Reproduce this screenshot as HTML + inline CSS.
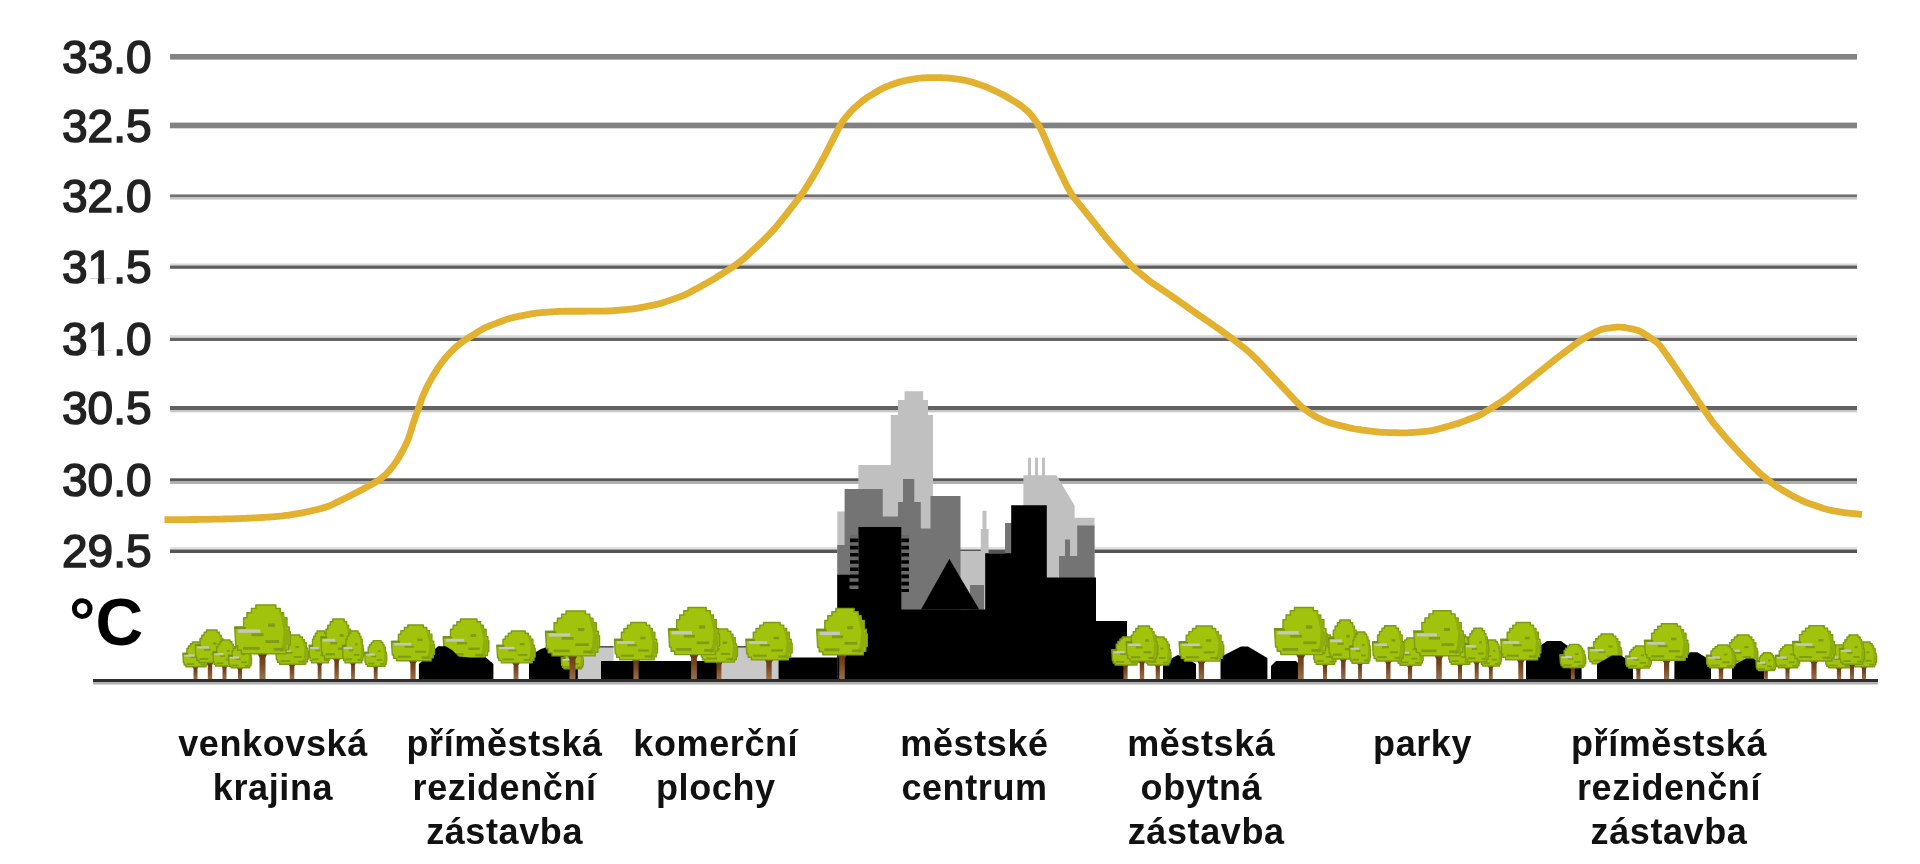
<!DOCTYPE html>
<html><head><meta charset="utf-8"><style>
html,body{margin:0;padding:0;background:#fff;}
body{width:1920px;height:864px;overflow:hidden;}
svg{display:block;filter:blur(0.7px);}
.yl{font-family:"Liberation Sans",sans-serif;font-size:46px;fill:#222;stroke:#222;stroke-width:1.5px;}
.deg{font-family:"Liberation Sans",sans-serif;font-size:66px;font-weight:bold;fill:#000;}
.lb{font-family:"Liberation Sans",sans-serif;font-size:36px;font-weight:bold;fill:#111;text-anchor:middle;letter-spacing:0.6px;}
</style></head><body>
<svg width="1920" height="864" viewBox="0 0 1920 864">
<defs><linearGradient id="trk" x1="0" y1="0" x2="0" y2="1"><stop offset="0" stop-color="#5e3216"/><stop offset="0.45" stop-color="#7a4620"/><stop offset="1" stop-color="#9a7250"/></linearGradient></defs>
<rect x="170" y="54.0" width="1687" height="5.6" fill="#838383"/>
<rect x="170" y="122.6" width="1687" height="5.7" fill="#828282"/>
<rect x="170" y="194.4" width="1687" height="3.1" fill="#727272"/>
<rect x="170" y="197.5" width="1687" height="2.1" fill="#c8c8c8"/>
<rect x="170" y="263.5" width="1687" height="2.0" fill="#d8d8d8"/>
<rect x="170" y="265.5" width="1687" height="3.3" fill="#5e5e5e"/>
<rect x="170" y="335.2" width="1687" height="2.6" fill="#d8d8d8"/>
<rect x="170" y="337.8" width="1687" height="3.2" fill="#646464"/>
<rect x="170" y="406.0" width="1687" height="4.0" fill="#626262"/>
<rect x="170" y="410.0" width="1687" height="2.3" fill="#c8c8c8"/>
<rect x="170" y="478.3" width="1687" height="3.2" fill="#585858"/>
<rect x="170" y="481.5" width="1687" height="2.5" fill="#b0b0b0"/>
<rect x="170" y="547.0" width="1687" height="2.5" fill="#e0e0e0"/>
<rect x="170" y="549.5" width="1687" height="3.5" fill="#545454"/>
<text x="62" y="72.5" class="yl">33.0</text>
<text x="62" y="141.5" class="yl">32.5</text>
<text x="62" y="211.9" class="yl">32.0</text>
<text x="62" y="283.1" class="yl">31.5</text>
<rect x="89" y="278.8" width="8.9" height="6" fill="#fff"/>
<rect x="104.3" y="278.8" width="8.5" height="6" fill="#fff"/>
<text x="62" y="354.9" class="yl">31.0</text>
<rect x="89" y="350.6" width="8.9" height="6" fill="#fff"/>
<rect x="104.3" y="350.6" width="8.5" height="6" fill="#fff"/>
<text x="62" y="424.2" class="yl">30.5</text>
<text x="62" y="495.9" class="yl">30.0</text>
<text x="62" y="566.9" class="yl">29.5</text>
<text x="69" y="644.5" class="deg">°C</text>
<rect x="576.5" y="646.8" width="37.1" height="33.2" fill="#c8c8c8"/>
<rect x="576.5" y="646.0" width="37.1" height="1.6" fill="#555"/>
<rect x="718.0" y="646.8" width="60.5" height="33.2" fill="#c8c8c8"/>
<rect x="718.0" y="646.0" width="60.5" height="1.6" fill="#555"/>
<rect x="601.0" y="661.0" width="117.0" height="19.0" fill="#000"/>
<rect x="778.5" y="657.5" width="81.5" height="22.5" fill="#000"/>
<path d="M460.1,655.5 L471.9,655.5 L468.7,661.6 L468.7,680.0 L463.3,680.0 L463.3,661.6 Z" fill="url(#trk)"/>
<polygon points="460.5,619.0 477.0,619.0 477.0,621.8 480.6,621.8 480.6,625.3 483.4,625.3 483.4,629.3 486.1,629.3 486.1,636.8 487.9,636.8 487.9,640.8 488.8,640.8 488.8,651.5 487.5,651.5 487.5,655.5 485.2,655.5 485.2,658.6 448.6,658.6 448.6,655.9 445.4,655.9 445.4,652.3 444.1,652.3 443.2,636.8 450.5,636.8 450.5,629.3 453.2,629.3 453.2,625.3 456.9,625.3 456.9,621.8 460.5,621.8" fill="#a2c30c" stroke="#7c9a12" stroke-width="1.4" stroke-linejoin="round"/>
<polygon points="479.7,623.0 482.9,626.9 485.6,630.9 485.6,638.8 487.9,638.8 487.9,651.5 485.6,651.5 485.6,655.5 482.4,657.1 479.7,657.1 482.4,650.7 483.4,638.8 481.5,630.9" fill="#8eae10"/>
<rect x="456.9" y="642.0" width="10.0" height="2.4" fill="#7f9c14"/>
<rect x="470.6" y="634.1" width="5.5" height="2.8" fill="#7f9c14"/>
<rect x="468.3" y="647.5" width="11.4" height="2.4" fill="#7f9c14"/>
<rect x="450.0" y="653.1" width="13.7" height="2.4" fill="#7f9c14"/>
<rect x="475.1" y="653.9" width="8.2" height="2.4" fill="#7f9c14"/>
<rect x="445.9" y="638.8" width="18.3" height="2.8" fill="#c6c8c0"/>
<rect x="443.2" y="636.8" width="9.1" height="1.6" fill="#6f8f14"/>
<path d="M1600.0,661.5 L1610.0,661.5 L1607.3,666.1 L1607.3,680.0 L1602.7,680.0 L1602.7,666.1 Z" fill="url(#trk)"/>
<polygon points="1601.0,634.0 1613.1,634.0 1613.1,636.1 1615.8,636.1 1615.8,638.8 1617.8,638.8 1617.8,641.8 1619.8,641.8 1619.8,647.5 1621.1,647.5 1621.1,650.4 1621.8,650.4 1621.8,658.5 1620.8,658.5 1620.8,661.5 1619.1,661.5 1619.1,663.9 1592.2,663.9 1592.2,661.8 1589.9,661.8 1589.9,659.1 1588.9,659.1 1588.2,647.5 1593.6,647.5 1593.6,641.8 1595.6,641.8 1595.6,638.8 1598.3,638.8 1598.3,636.1 1601.0,636.1" fill="#a2c30c" stroke="#7c9a12" stroke-width="1.4" stroke-linejoin="round"/>
<polygon points="1615.1,637.0 1617.4,640.0 1619.4,643.0 1619.4,649.0 1621.1,649.0 1621.1,658.5 1619.4,658.5 1619.4,661.5 1617.1,662.7 1615.1,662.7 1617.1,657.9 1617.8,649.0 1616.4,643.0" fill="#8eae10"/>
<rect x="1598.3" y="651.3" width="7.4" height="1.8" fill="#7f9c14"/>
<rect x="1608.4" y="645.4" width="4.0" height="2.1" fill="#7f9c14"/>
<rect x="1606.7" y="655.5" width="8.4" height="1.8" fill="#7f9c14"/>
<rect x="1593.2" y="659.7" width="10.1" height="1.8" fill="#7f9c14"/>
<rect x="1611.7" y="660.3" width="6.0" height="1.8" fill="#7f9c14"/>
<rect x="1590.2" y="649.0" width="13.4" height="2.2" fill="#c6c8c0"/>
<rect x="1588.2" y="647.5" width="6.7" height="1.6" fill="#6f8f14"/>
<path d="M1736.0,661.9 L1746.0,661.9 L1743.3,666.4 L1743.3,680.0 L1738.7,680.0 L1738.7,666.4 Z" fill="url(#trk)"/>
<polygon points="1737.0,635.0 1749.1,635.0 1749.1,637.0 1751.8,637.0 1751.8,639.7 1753.8,639.7 1753.8,642.6 1755.8,642.6 1755.8,648.2 1757.1,648.2 1757.1,651.1 1757.8,651.1 1757.8,659.0 1756.8,659.0 1756.8,661.9 1755.1,661.9 1755.1,664.2 1728.2,664.2 1728.2,662.2 1725.9,662.2 1725.9,659.6 1724.9,659.6 1724.2,648.2 1729.6,648.2 1729.6,642.6 1731.6,642.6 1731.6,639.7 1734.3,639.7 1734.3,637.0 1737.0,637.0" fill="#a2c30c" stroke="#7c9a12" stroke-width="1.4" stroke-linejoin="round"/>
<polygon points="1751.1,637.9 1753.4,640.9 1755.4,643.8 1755.4,649.6 1757.1,649.6 1757.1,659.0 1755.4,659.0 1755.4,661.9 1753.1,663.1 1751.1,663.1 1753.1,658.4 1753.8,649.6 1752.4,643.8" fill="#8eae10"/>
<rect x="1734.3" y="652.0" width="7.4" height="1.8" fill="#7f9c14"/>
<rect x="1744.4" y="646.1" width="4.0" height="2.0" fill="#7f9c14"/>
<rect x="1742.7" y="656.1" width="8.4" height="1.8" fill="#7f9c14"/>
<rect x="1729.2" y="660.2" width="10.1" height="1.8" fill="#7f9c14"/>
<rect x="1747.7" y="660.7" width="6.0" height="1.8" fill="#7f9c14"/>
<rect x="1726.2" y="649.6" width="13.4" height="2.2" fill="#c6c8c0"/>
<rect x="1724.2" y="648.2" width="6.7" height="1.6" fill="#6f8f14"/>
<path d="M418.9,680 L418.9,664 L431.6,652 L438,646.2 L445.6,646.2 L452,650 L458.7,656.6 L470,657.5 L486,657.5 L493.4,664 L493.4,680 Z" fill="#000"/>
<path d="M529,680 L529,656 L541,649 L547,647 L556,647 L562,650 L570,656 L577.8,660 L577.8,680 Z" fill="#000"/>
<path d="M1163,680 L1163,664 L1172,658 L1178,655 L1186,658 L1196,664 L1196,680 Z" fill="#000"/>
<path d="M1220.5,680 L1220.5,657 L1241,646.4 L1248,646.4 L1267.4,658 L1267.4,680 Z" fill="#000"/>
<path d="M1271,680 L1271,666 L1276,661 L1296,661 L1299,664 L1299,680 Z" fill="#000"/>
<path d="M1526,680 L1526,656 L1547,641 L1561,641 L1576,652 L1581.6,655 L1581.6,680 Z" fill="#000"/>
<path d="M1597,680 L1597,664 L1612,655.5 L1621,655.5 L1633,663 L1633,680 Z" fill="#000"/>
<path d="M1674.4,680 L1674.4,657 L1690.6,652.3 L1697.4,652.3 L1711,660.5 L1711,680 Z" fill="#000"/>
<path d="M1732,680 L1732,666 L1746,658.4 L1753,658.4 L1764,665 L1764,680 Z" fill="#000"/>
<path d="M890.8,680 V415 H898 V400 H904.6 V391.3 H923.2 V400 H928 V415 H933 V680 Z" fill="#c0c0c0"/>
<path d="M858.4,680 V465 H891 V680 Z" fill="#c0c0c0"/>
<path d="M837.3,680 V511.6 H845 V680 Z" fill="#c0c0c0"/>
<path d="M1023.4,680 V475.2 H1056.4 L1074.6,505.6 V517.7 H1094.5 V680 Z" fill="#c0c0c0"/>
<path d="M1028,476 V457.8 H1031 V476 Z M1035,476 V457.8 H1038 V476 Z M1042,476 V457.8 H1045 V476 Z" fill="#c0c0c0"/>
<path d="M980.8,680 V529 H988.6 V680 Z M982.5,530 V510.8 H986.5 V530 Z" fill="#c0c0c0"/>
<path d="M959.7,680 V551 H984 V680 Z" fill="#c0c0c0"/>
<path d="M882,680 V480 H898 V680 Z" fill="#c0c0c0"/>
<path d="M844.6,680 V489 H882.7 V516.5 H898 V502 H903 V479 H914.3 V502 H920.8 V528.6 H930.5 V496 H960.5 V680 Z" fill="#747474"/>
<path d="M837.3,680 V545 H845 V680 Z" fill="#747474"/>
<path d="M1077.2,680 V525.5 H1094.5 V680 Z" fill="#747474"/>
<path d="M1059,680 V556 H1078 V680 Z M1065,557 V539.4 H1070 V557 Z" fill="#747474"/>
<path d="M1005,680 V523 H1012 V680 Z" fill="#747474"/>
<path d="M970,680 V585 H984 V680 Z" fill="#747474"/>
<path d="M858.4,680 V527 H901.3 V680 Z" fill="#000"/>
<path d="M837.3,680 V574.7 H860 V680 Z" fill="#000"/>
<path d="M921,609.6 L949.4,559 L979.3,609.6 Z" fill="#000"/>
<path d="M985.2,680 V553.3 H1011.2 V505.2 H1046.8 V577.6 H1096 V621 H1127 V680 Z" fill="#000"/>
<path d="M845,680 V609.4 H990 V680 Z" fill="#000"/>
<path d="M850,680 V535 H858.4 V680 Z M901.3,592 V535 H909 V592 Z" fill="#000"/>
<path d="M849.5,535.0 h9 v3.6 h-9 Z M901.3,535.0 h8 v3.6 h-8 Z M849.5,542.2 h9 v3.6 h-9 Z M901.3,542.2 h8 v3.6 h-8 Z M849.5,549.4 h9 v3.6 h-9 Z M901.3,549.4 h8 v3.6 h-8 Z M849.5,556.6 h9 v3.6 h-9 Z M901.3,556.6 h8 v3.6 h-8 Z M849.5,563.8 h9 v3.6 h-9 Z M901.3,563.8 h8 v3.6 h-8 Z M849.5,571.0 h9 v3.6 h-9 Z M901.3,571.0 h8 v3.6 h-8 Z M849.5,578.2 h9 v3.6 h-9 Z M901.3,578.2 h8 v3.6 h-8 Z M849.5,585.4 h9 v3.6 h-9 Z M901.3,585.4 h8 v3.6 h-8 Z" fill="#6a6a6a"/>
<path d="M191.1,664.7 L199.9,664.7 L197.5,668.5 L197.5,680.0 L193.5,680.0 L193.5,668.5 Z" fill="url(#trk)"/>
<polygon points="192.5,642.0 201.5,642.0 201.5,643.7 203.6,643.7 203.6,646.0 205.1,646.0 205.1,648.4 206.6,648.4 206.6,653.1 207.6,653.1 207.6,655.6 208.1,655.6 208.1,662.3 207.3,662.3 207.3,664.7 206.1,664.7 206.1,666.7 185.9,666.7 185.9,665.0 184.2,665.0 184.2,662.7 183.4,662.7 182.9,653.1 186.9,653.1 186.9,648.4 188.4,648.4 188.4,646.0 190.5,646.0 190.5,643.7 192.5,643.7" fill="#a2c30c" stroke="#7c9a12" stroke-width="1.4" stroke-linejoin="round"/>
<polygon points="203.1,644.5 204.8,646.9 206.3,649.4 206.3,654.4 207.6,654.4 207.6,662.3 206.3,662.3 206.3,664.7 204.6,665.7 203.1,665.7 204.6,661.8 205.1,654.4 204.1,649.4" fill="#8eae10"/>
<rect x="190.5" y="656.3" width="5.5" height="1.8" fill="#7f9c14"/>
<rect x="198.0" y="651.4" width="3.0" height="1.8" fill="#7f9c14"/>
<rect x="196.8" y="659.8" width="6.3" height="1.8" fill="#7f9c14"/>
<rect x="186.7" y="663.2" width="7.6" height="1.8" fill="#7f9c14"/>
<rect x="200.5" y="663.7" width="4.5" height="1.8" fill="#7f9c14"/>
<rect x="184.4" y="654.4" width="10.1" height="2.2" fill="#c6c8c0"/>
<rect x="182.9" y="653.1" width="5.0" height="1.6" fill="#6f8f14"/>
<path d="M205.3,659.9 L214.7,659.9 L212.2,664.9 L212.2,680.0 L207.8,680.0 L207.8,664.9 Z" fill="url(#trk)"/>
<polygon points="206.5,630.0 217.1,630.0 217.1,632.3 219.4,632.3 219.4,635.2 221.2,635.2 221.2,638.5 222.9,638.5 222.9,644.6 224.1,644.6 224.1,647.9 224.7,647.9 224.7,656.6 223.8,656.6 223.8,659.9 222.3,659.9 222.3,662.5 198.8,662.5 198.8,660.2 196.8,660.2 196.8,657.3 195.9,657.3 195.3,644.6 200.0,644.6 200.0,638.5 201.8,638.5 201.8,635.2 204.1,635.2 204.1,632.3 206.5,632.3" fill="#a2c30c" stroke="#7c9a12" stroke-width="1.4" stroke-linejoin="round"/>
<polygon points="218.8,633.2 220.9,636.5 222.6,639.8 222.6,646.2 224.1,646.2 224.1,656.6 222.6,656.6 222.6,659.9 220.6,661.2 218.8,661.2 220.6,656.0 221.2,646.2 220.0,639.8" fill="#8eae10"/>
<rect x="204.1" y="648.9" width="6.5" height="1.9" fill="#7f9c14"/>
<rect x="212.9" y="642.4" width="3.5" height="2.3" fill="#7f9c14"/>
<rect x="211.5" y="653.4" width="7.4" height="1.9" fill="#7f9c14"/>
<rect x="199.7" y="658.0" width="8.8" height="1.9" fill="#7f9c14"/>
<rect x="215.9" y="658.6" width="5.3" height="1.9" fill="#7f9c14"/>
<rect x="197.1" y="646.2" width="11.8" height="2.3" fill="#c6c8c0"/>
<rect x="195.3" y="644.6" width="5.9" height="1.6" fill="#6f8f14"/>
<path d="M220.2,663.9 L228.8,663.9 L226.5,667.9 L226.5,680.0 L222.5,680.0 L222.5,667.9 Z" fill="url(#trk)"/>
<polygon points="221.7,640.0 230.0,640.0 230.0,641.8 231.9,641.8 231.9,644.2 233.3,644.2 233.3,646.8 234.7,646.8 234.7,651.7 235.6,651.7 235.6,654.3 236.0,654.3 236.0,661.3 235.4,661.3 235.4,663.9 234.2,663.9 234.2,666.0 215.7,666.0 215.7,664.2 214.1,664.2 214.1,661.8 213.4,661.8 212.9,651.7 216.6,651.7 216.6,646.8 218.0,646.8 218.0,644.2 219.9,644.2 219.9,641.8 221.7,641.8" fill="#a2c30c" stroke="#7c9a12" stroke-width="1.4" stroke-linejoin="round"/>
<polygon points="231.4,642.6 233.0,645.2 234.4,647.8 234.4,653.0 235.6,653.0 235.6,661.3 234.4,661.3 234.4,663.9 232.8,665.0 231.4,665.0 232.8,660.8 233.3,653.0 232.4,647.8" fill="#8eae10"/>
<rect x="219.9" y="655.1" width="5.1" height="1.8" fill="#7f9c14"/>
<rect x="226.8" y="649.9" width="2.8" height="1.8" fill="#7f9c14"/>
<rect x="225.7" y="658.7" width="5.8" height="1.8" fill="#7f9c14"/>
<rect x="216.4" y="662.4" width="6.9" height="1.8" fill="#7f9c14"/>
<rect x="229.1" y="662.9" width="4.2" height="1.8" fill="#7f9c14"/>
<rect x="214.3" y="653.0" width="9.2" height="2.2" fill="#c6c8c0"/>
<rect x="212.9" y="651.7" width="4.6" height="1.6" fill="#6f8f14"/>
<path d="M235.7,665.9 L244.3,665.9 L242.0,669.4 L242.0,680.0 L238.0,680.0 L238.0,669.4 Z" fill="url(#trk)"/>
<polygon points="237.2,645.0 245.5,645.0 245.5,646.6 247.4,646.6 247.4,648.6 248.8,648.6 248.8,650.9 250.2,650.9 250.2,655.2 251.1,655.2 251.1,657.5 251.5,657.5 251.5,663.7 250.9,663.7 250.9,665.9 249.7,665.9 249.7,667.8 231.2,667.8 231.2,666.2 229.6,666.2 229.6,664.1 228.9,664.1 228.4,655.2 232.1,655.2 232.1,650.9 233.5,650.9 233.5,648.6 235.4,648.6 235.4,646.6 237.2,646.6" fill="#a2c30c" stroke="#7c9a12" stroke-width="1.4" stroke-linejoin="round"/>
<polygon points="246.9,647.3 248.5,649.5 249.9,651.8 249.9,656.4 251.1,656.4 251.1,663.7 249.9,663.7 249.9,665.9 248.3,666.8 246.9,666.8 248.3,663.2 248.8,656.4 247.9,651.8" fill="#8eae10"/>
<rect x="235.4" y="658.2" width="5.1" height="1.8" fill="#7f9c14"/>
<rect x="242.3" y="653.6" width="2.8" height="1.8" fill="#7f9c14"/>
<rect x="241.2" y="661.4" width="5.8" height="1.8" fill="#7f9c14"/>
<rect x="231.9" y="664.6" width="6.9" height="1.8" fill="#7f9c14"/>
<rect x="244.6" y="665.0" width="4.2" height="1.8" fill="#7f9c14"/>
<rect x="229.8" y="656.4" width="9.2" height="2.2" fill="#c6c8c0"/>
<rect x="228.4" y="655.2" width="4.6" height="1.6" fill="#6f8f14"/>
<path d="M287.0,661.9 L297.0,661.9 L294.3,666.4 L294.3,680.0 L289.7,680.0 L289.7,666.4 Z" fill="url(#trk)"/>
<polygon points="288.1,635.0 299.8,635.0 299.8,637.0 302.4,637.0 302.4,639.7 304.4,639.7 304.4,642.6 306.3,642.6 306.3,648.2 307.6,648.2 307.6,651.1 308.3,651.1 308.3,659.0 307.3,659.0 307.3,661.9 305.7,661.9 305.7,664.2 279.6,664.2 279.6,662.2 277.4,662.2 277.4,659.6 276.4,659.6 275.7,648.2 280.9,648.2 280.9,642.6 282.9,642.6 282.9,639.7 285.5,639.7 285.5,637.0 288.1,637.0" fill="#a2c30c" stroke="#7c9a12" stroke-width="1.4" stroke-linejoin="round"/>
<polygon points="301.8,637.9 304.0,640.9 306.0,643.8 306.0,649.6 307.6,649.6 307.6,659.0 306.0,659.0 306.0,661.9 303.7,663.1 301.8,663.1 303.7,658.4 304.4,649.6 303.1,643.8" fill="#8eae10"/>
<rect x="285.5" y="652.0" width="7.2" height="1.8" fill="#7f9c14"/>
<rect x="295.3" y="646.1" width="3.9" height="2.0" fill="#7f9c14"/>
<rect x="293.6" y="656.1" width="8.1" height="1.8" fill="#7f9c14"/>
<rect x="280.6" y="660.2" width="9.8" height="1.8" fill="#7f9c14"/>
<rect x="298.5" y="660.7" width="5.9" height="1.8" fill="#7f9c14"/>
<rect x="277.7" y="649.6" width="13.0" height="2.2" fill="#c6c8c0"/>
<rect x="275.7" y="648.2" width="6.5" height="1.6" fill="#6f8f14"/>
<path d="M315.5,660.3 L323.7,660.3 L321.5,665.2 L321.5,680.0 L317.7,680.0 L317.7,665.2 Z" fill="url(#trk)"/>
<polygon points="317.1,631.0 324.6,631.0 324.6,633.2 326.3,633.2 326.3,636.1 327.6,636.1 327.6,639.3 328.8,639.3 328.8,645.3 329.7,645.3 329.7,648.5 330.1,648.5 330.1,657.1 329.5,657.1 329.5,660.3 328.4,660.3 328.4,662.9 311.6,662.9 311.6,660.6 310.2,660.6 310.2,657.8 309.5,657.8 309.1,645.3 312.5,645.3 312.5,639.3 313.7,639.3 313.7,636.1 315.4,636.1 315.4,633.2 317.1,633.2" fill="#a2c30c" stroke="#7c9a12" stroke-width="1.4" stroke-linejoin="round"/>
<polygon points="325.9,634.2 327.4,637.4 328.6,640.6 328.6,646.9 329.7,646.9 329.7,657.1 328.6,657.1 328.6,660.3 327.2,661.6 325.9,661.6 327.2,656.5 327.6,646.9 326.7,640.6" fill="#8eae10"/>
<rect x="315.4" y="649.5" width="4.6" height="1.9" fill="#7f9c14"/>
<rect x="321.7" y="643.1" width="2.5" height="2.2" fill="#7f9c14"/>
<rect x="320.7" y="653.9" width="5.2" height="1.9" fill="#7f9c14"/>
<rect x="312.2" y="658.4" width="6.3" height="1.9" fill="#7f9c14"/>
<rect x="323.8" y="659.0" width="3.8" height="1.9" fill="#7f9c14"/>
<rect x="310.4" y="646.9" width="8.4" height="2.2" fill="#c6c8c0"/>
<rect x="309.1" y="645.3" width="4.2" height="1.6" fill="#6f8f14"/>
<path d="M331.7,655.5 L341.5,655.5 L338.8,661.6 L338.8,680.0 L334.4,680.0 L334.4,661.6 Z" fill="url(#trk)"/>
<polygon points="332.8,619.0 344.2,619.0 344.2,621.8 346.7,621.8 346.7,625.3 348.6,625.3 348.6,629.3 350.5,629.3 350.5,636.8 351.7,636.8 351.7,640.8 352.4,640.8 352.4,651.5 351.4,651.5 351.4,655.5 349.8,655.5 349.8,658.6 324.6,658.6 324.6,655.9 322.4,655.9 322.4,652.3 321.5,652.3 320.9,636.8 325.9,636.8 325.9,629.3 327.8,629.3 327.8,625.3 330.3,625.3 330.3,621.8 332.8,621.8" fill="#a2c30c" stroke="#7c9a12" stroke-width="1.4" stroke-linejoin="round"/>
<polygon points="346.1,623.0 348.3,626.9 350.1,630.9 350.1,638.8 351.7,638.8 351.7,651.5 350.1,651.5 350.1,655.5 347.9,657.1 346.1,657.1 347.9,650.7 348.6,638.8 347.3,630.9" fill="#8eae10"/>
<rect x="330.3" y="642.0" width="6.9" height="2.4" fill="#7f9c14"/>
<rect x="339.8" y="634.1" width="3.8" height="2.8" fill="#7f9c14"/>
<rect x="338.2" y="647.5" width="7.9" height="2.4" fill="#7f9c14"/>
<rect x="325.6" y="653.1" width="9.4" height="2.4" fill="#7f9c14"/>
<rect x="342.9" y="653.9" width="5.7" height="2.4" fill="#7f9c14"/>
<rect x="322.7" y="638.8" width="12.6" height="2.8" fill="#c6c8c0"/>
<rect x="320.9" y="636.8" width="6.3" height="1.6" fill="#6f8f14"/>
<path d="M348.9,660.3 L357.1,660.3 L354.9,665.2 L354.9,680.0 L351.1,680.0 L351.1,665.2 Z" fill="url(#trk)"/>
<polygon points="350.5,631.0 358.0,631.0 358.0,633.2 359.7,633.2 359.7,636.1 361.0,636.1 361.0,639.3 362.2,639.3 362.2,645.3 363.1,645.3 363.1,648.5 363.5,648.5 363.5,657.1 362.9,657.1 362.9,660.3 361.8,660.3 361.8,662.9 345.0,662.9 345.0,660.6 343.6,660.6 343.6,657.8 342.9,657.8 342.5,645.3 345.9,645.3 345.9,639.3 347.1,639.3 347.1,636.1 348.8,636.1 348.8,633.2 350.5,633.2" fill="#a2c30c" stroke="#7c9a12" stroke-width="1.4" stroke-linejoin="round"/>
<polygon points="359.3,634.2 360.8,637.4 362.0,640.6 362.0,646.9 363.1,646.9 363.1,657.1 362.0,657.1 362.0,660.3 360.6,661.6 359.3,661.6 360.6,656.5 361.0,646.9 360.1,640.6" fill="#8eae10"/>
<rect x="348.8" y="649.5" width="4.6" height="1.9" fill="#7f9c14"/>
<rect x="355.1" y="643.1" width="2.5" height="2.2" fill="#7f9c14"/>
<rect x="354.1" y="653.9" width="5.2" height="1.9" fill="#7f9c14"/>
<rect x="345.6" y="658.4" width="6.3" height="1.9" fill="#7f9c14"/>
<rect x="357.2" y="659.0" width="3.8" height="1.9" fill="#7f9c14"/>
<rect x="343.8" y="646.9" width="8.4" height="2.2" fill="#c6c8c0"/>
<rect x="342.5" y="645.3" width="4.2" height="1.6" fill="#6f8f14"/>
<path d="M371.5,664.2 L379.9,664.2 L377.6,668.1 L377.6,680.0 L373.8,680.0 L373.8,668.1 Z" fill="url(#trk)"/>
<polygon points="373.1,640.6 381.0,640.6 381.0,642.4 382.8,642.4 382.8,644.7 384.1,644.7 384.1,647.3 385.4,647.3 385.4,652.1 386.3,652.1 386.3,654.7 386.7,654.7 386.7,661.6 386.1,661.6 386.1,664.2 385.0,664.2 385.0,666.2 367.3,666.2 367.3,664.4 365.8,664.4 365.8,662.1 365.1,662.1 364.7,652.1 368.2,652.1 368.2,647.3 369.5,647.3 369.5,644.7 371.3,644.7 371.3,642.4 373.1,642.4" fill="#a2c30c" stroke="#7c9a12" stroke-width="1.4" stroke-linejoin="round"/>
<polygon points="382.3,643.2 383.9,645.7 385.2,648.3 385.2,653.4 386.3,653.4 386.3,661.6 385.2,661.6 385.2,664.2 383.6,665.2 382.3,665.2 383.6,661.1 384.1,653.4 383.2,648.3" fill="#8eae10"/>
<rect x="371.3" y="655.5" width="4.9" height="1.8" fill="#7f9c14"/>
<rect x="377.9" y="650.3" width="2.6" height="1.8" fill="#7f9c14"/>
<rect x="376.8" y="659.0" width="5.5" height="1.8" fill="#7f9c14"/>
<rect x="368.0" y="662.6" width="6.6" height="1.8" fill="#7f9c14"/>
<rect x="380.1" y="663.1" width="4.0" height="1.8" fill="#7f9c14"/>
<rect x="366.0" y="653.4" width="8.8" height="2.2" fill="#c6c8c0"/>
<rect x="364.7" y="652.1" width="4.4" height="1.6" fill="#6f8f14"/>
<path d="M255.9,649.9 L269.1,649.9 L265.5,657.4 L265.5,680.0 L259.5,680.0 L259.5,657.4 Z" fill="url(#trk)"/>
<polygon points="255.8,605.0 275.9,605.0 275.9,608.4 280.3,608.4 280.3,612.8 283.6,612.8 283.6,617.7 287.0,617.7 287.0,626.9 289.2,626.9 289.2,631.8 290.3,631.8 290.3,645.0 288.7,645.0 288.7,649.9 285.9,649.9 285.9,653.8 241.4,653.8 241.4,650.3 237.5,650.3 237.5,646.0 235.8,646.0 234.7,626.9 243.6,626.9 243.6,617.7 246.9,617.7 246.9,612.8 251.4,612.8 251.4,608.4 255.8,608.4" fill="#a2c30c" stroke="#7c9a12" stroke-width="1.4" stroke-linejoin="round"/>
<polygon points="279.2,609.9 283.1,614.8 286.4,619.6 286.4,629.4 289.2,629.4 289.2,645.0 286.4,645.0 286.4,649.9 282.5,651.8 279.2,651.8 282.5,644.0 283.6,629.4 281.4,619.6" fill="#8eae10"/>
<rect x="251.4" y="633.3" width="12.2" height="2.9" fill="#7f9c14"/>
<rect x="268.1" y="623.5" width="6.7" height="3.4" fill="#7f9c14"/>
<rect x="265.3" y="640.1" width="13.9" height="2.9" fill="#7f9c14"/>
<rect x="243.0" y="646.9" width="16.7" height="2.9" fill="#7f9c14"/>
<rect x="273.6" y="647.9" width="10.0" height="2.9" fill="#7f9c14"/>
<rect x="238.0" y="629.4" width="22.3" height="3.4" fill="#c6c8c0"/>
<rect x="234.7" y="626.9" width="11.1" height="1.9" fill="#6f8f14"/>
<path d="M407.3,657.9 L418.7,657.9 L415.6,663.4 L415.6,680.0 L410.4,680.0 L410.4,663.4 Z" fill="url(#trk)"/>
<polygon points="407.8,625.0 423.3,625.0 423.3,627.5 426.8,627.5 426.8,630.7 429.4,630.7 429.4,634.3 431.9,634.3 431.9,641.1 433.7,641.1 433.7,644.7 434.5,644.7 434.5,654.3 433.2,654.3 433.2,657.9 431.1,657.9 431.1,660.8 396.6,660.8 396.6,658.2 393.6,658.2 393.6,655.0 392.3,655.0 391.5,641.1 398.4,641.1 398.4,634.3 400.9,634.3 400.9,630.7 404.4,630.7 404.4,627.5 407.8,627.5" fill="#a2c30c" stroke="#7c9a12" stroke-width="1.4" stroke-linejoin="round"/>
<polygon points="425.9,628.6 428.9,632.1 431.5,635.7 431.5,642.9 433.7,642.9 433.7,654.3 431.5,654.3 431.5,657.9 428.5,659.3 425.9,659.3 428.5,653.6 429.4,642.9 427.6,635.7" fill="#8eae10"/>
<rect x="404.4" y="645.7" width="9.5" height="2.1" fill="#7f9c14"/>
<rect x="417.3" y="638.6" width="5.2" height="2.5" fill="#7f9c14"/>
<rect x="415.2" y="650.7" width="10.8" height="2.1" fill="#7f9c14"/>
<rect x="397.9" y="655.7" width="12.9" height="2.1" fill="#7f9c14"/>
<rect x="421.6" y="656.5" width="7.7" height="2.1" fill="#7f9c14"/>
<rect x="394.1" y="642.9" width="17.2" height="2.5" fill="#c6c8c0"/>
<rect x="391.5" y="641.1" width="8.6" height="1.6" fill="#6f8f14"/>
<path d="M510.6,660.3 L521.4,660.3 L518.4,665.2 L518.4,680.0 L513.6,680.0 L513.6,665.2 Z" fill="url(#trk)"/>
<polygon points="511.4,631.0 525.2,631.0 525.2,633.2 528.3,633.2 528.3,636.1 530.6,636.1 530.6,639.3 532.9,639.3 532.9,645.3 534.4,645.3 534.4,648.5 535.2,648.5 535.2,657.1 534.0,657.1 534.0,660.3 532.1,660.3 532.1,662.9 501.4,662.9 501.4,660.6 498.8,660.6 498.8,657.8 497.6,657.8 496.8,645.3 503.0,645.3 503.0,639.3 505.3,639.3 505.3,636.1 508.3,636.1 508.3,633.2 511.4,633.2" fill="#a2c30c" stroke="#7c9a12" stroke-width="1.4" stroke-linejoin="round"/>
<polygon points="527.5,634.2 530.2,637.4 532.5,640.6 532.5,646.9 534.4,646.9 534.4,657.1 532.5,657.1 532.5,660.3 529.8,661.6 527.5,661.6 529.8,656.5 530.6,646.9 529.0,640.6" fill="#8eae10"/>
<rect x="508.3" y="649.5" width="8.4" height="1.9" fill="#7f9c14"/>
<rect x="519.8" y="643.1" width="4.6" height="2.2" fill="#7f9c14"/>
<rect x="517.9" y="653.9" width="9.6" height="1.9" fill="#7f9c14"/>
<rect x="502.6" y="658.4" width="11.5" height="1.9" fill="#7f9c14"/>
<rect x="523.7" y="659.0" width="6.9" height="1.9" fill="#7f9c14"/>
<rect x="499.1" y="646.9" width="15.3" height="2.2" fill="#c6c8c0"/>
<rect x="496.8" y="645.3" width="7.7" height="1.6" fill="#6f8f14"/>
<path d="M568.1,667.1 L576.5,667.1 L574.2,670.3 L574.2,680.0 L570.4,680.0 L570.4,670.3 Z" fill="url(#trk)"/>
<polygon points="569.7,648.0 577.6,648.0 577.6,649.5 579.4,649.5 579.4,651.3 580.7,651.3 580.7,653.4 582.0,653.4 582.0,657.4 582.9,657.4 582.9,659.4 583.3,659.4 583.3,665.1 582.7,665.1 582.7,667.1 581.6,667.1 581.6,668.8 563.9,668.8 563.9,667.3 562.4,667.3 562.4,665.5 561.7,665.5 561.3,657.4 564.8,657.4 564.8,653.4 566.1,653.4 566.1,651.3 567.9,651.3 567.9,649.5 569.7,649.5" fill="#a2c30c" stroke="#7c9a12" stroke-width="1.4" stroke-linejoin="round"/>
<polygon points="578.9,650.1 580.5,652.2 581.8,654.2 581.8,658.4 582.9,658.4 582.9,665.1 581.8,665.1 581.8,667.1 580.2,668.0 578.9,668.0 580.2,664.6 580.7,658.4 579.8,654.2" fill="#8eae10"/>
<rect x="567.9" y="660.1" width="4.9" height="1.8" fill="#7f9c14"/>
<rect x="574.5" y="655.9" width="2.6" height="1.8" fill="#7f9c14"/>
<rect x="573.4" y="663.0" width="5.5" height="1.8" fill="#7f9c14"/>
<rect x="564.6" y="665.9" width="6.6" height="1.8" fill="#7f9c14"/>
<rect x="576.7" y="666.3" width="4.0" height="1.8" fill="#7f9c14"/>
<rect x="562.6" y="658.4" width="8.8" height="2.2" fill="#c6c8c0"/>
<rect x="561.3" y="657.4" width="4.4" height="1.6" fill="#6f8f14"/>
<path d="M566.0,652.3 L579.0,652.3 L575.5,659.2 L575.5,680.0 L569.5,680.0 L569.5,659.2 Z" fill="url(#trk)"/>
<polygon points="566.0,611.0 585.5,611.0 585.5,614.1 589.8,614.1 589.8,618.2 593.0,618.2 593.0,622.7 596.3,622.7 596.3,631.2 598.5,631.2 598.5,635.7 599.5,635.7 599.5,647.8 597.9,647.8 597.9,652.3 595.2,652.3 595.2,655.9 552.0,655.9 552.0,652.7 548.2,652.7 548.2,648.7 546.5,648.7 545.5,631.2 554.1,631.2 554.1,622.7 557.4,622.7 557.4,618.2 561.7,618.2 561.7,614.1 566.0,614.1" fill="#a2c30c" stroke="#7c9a12" stroke-width="1.4" stroke-linejoin="round"/>
<polygon points="588.7,615.5 592.5,620.0 595.8,624.5 595.8,633.4 598.5,633.4 598.5,647.8 595.8,647.8 595.8,652.3 592.0,654.1 588.7,654.1 592.0,646.9 593.0,633.4 590.9,624.5" fill="#8eae10"/>
<rect x="561.7" y="637.0" width="11.9" height="2.7" fill="#7f9c14"/>
<rect x="577.9" y="628.0" width="6.5" height="3.1" fill="#7f9c14"/>
<rect x="575.2" y="643.3" width="13.5" height="2.7" fill="#7f9c14"/>
<rect x="553.6" y="649.6" width="16.2" height="2.7" fill="#7f9c14"/>
<rect x="583.3" y="650.5" width="9.7" height="2.7" fill="#7f9c14"/>
<rect x="548.7" y="633.4" width="21.6" height="3.1" fill="#c6c8c0"/>
<rect x="545.5" y="631.2" width="10.8" height="1.8" fill="#6f8f14"/>
<path d="M630.3,656.9 L641.7,656.9 L638.6,662.6 L638.6,680.0 L633.4,680.0 L633.4,662.6 Z" fill="url(#trk)"/>
<polygon points="630.8,622.5 646.3,622.5 646.3,625.1 649.8,625.1 649.8,628.5 652.4,628.5 652.4,632.2 654.9,632.2 654.9,639.3 656.7,639.3 656.7,643.1 657.5,643.1 657.5,653.1 656.2,653.1 656.2,656.9 654.1,656.9 654.1,659.9 619.6,659.9 619.6,657.3 616.6,657.3 616.6,653.9 615.3,653.9 614.5,639.3 621.4,639.3 621.4,632.2 623.9,632.2 623.9,628.5 627.4,628.5 627.4,625.1 630.8,625.1" fill="#a2c30c" stroke="#7c9a12" stroke-width="1.4" stroke-linejoin="round"/>
<polygon points="648.9,626.2 651.9,630.0 654.5,633.7 654.5,641.2 656.7,641.2 656.7,653.1 654.5,653.1 654.5,656.9 651.5,658.4 648.9,658.4 651.5,652.4 652.4,641.2 650.6,633.7" fill="#8eae10"/>
<rect x="627.4" y="644.2" width="9.5" height="2.2" fill="#7f9c14"/>
<rect x="640.3" y="636.7" width="5.2" height="2.6" fill="#7f9c14"/>
<rect x="638.2" y="649.4" width="10.8" height="2.2" fill="#7f9c14"/>
<rect x="620.9" y="654.6" width="12.9" height="2.2" fill="#7f9c14"/>
<rect x="644.6" y="655.4" width="7.7" height="2.2" fill="#7f9c14"/>
<rect x="617.1" y="641.2" width="17.2" height="2.6" fill="#c6c8c0"/>
<rect x="614.5" y="639.3" width="8.6" height="1.6" fill="#6f8f14"/>
<path d="M713.7,659.5 L724.3,659.5 L721.4,664.6 L721.4,680.0 L716.6,680.0 L716.6,664.6 Z" fill="url(#trk)"/>
<polygon points="714.6,629.0 727.8,629.0 727.8,631.3 730.8,631.3 730.8,634.3 733.0,634.3 733.0,637.6 735.2,637.6 735.2,643.9 736.6,643.9 736.6,647.2 737.4,647.2 737.4,656.2 736.3,656.2 736.3,659.5 734.4,659.5 734.4,662.1 705.0,662.1 705.0,659.8 702.5,659.8 702.5,656.8 701.4,656.8 700.6,643.9 706.5,643.9 706.5,637.6 708.7,637.6 708.7,634.3 711.6,634.3 711.6,631.3 714.6,631.3" fill="#a2c30c" stroke="#7c9a12" stroke-width="1.4" stroke-linejoin="round"/>
<polygon points="730.0,632.3 732.6,635.6 734.8,638.9 734.8,645.6 736.6,645.6 736.6,656.2 734.8,656.2 734.8,659.5 732.2,660.8 730.0,660.8 732.2,655.5 733.0,645.6 731.5,638.9" fill="#8eae10"/>
<rect x="711.6" y="648.2" width="8.1" height="2.0" fill="#7f9c14"/>
<rect x="722.7" y="641.6" width="4.4" height="2.3" fill="#7f9c14"/>
<rect x="720.8" y="652.9" width="9.2" height="2.0" fill="#7f9c14"/>
<rect x="706.1" y="657.5" width="11.0" height="2.0" fill="#7f9c14"/>
<rect x="726.4" y="658.2" width="6.6" height="2.0" fill="#7f9c14"/>
<rect x="702.8" y="645.6" width="14.7" height="2.3" fill="#c6c8c0"/>
<rect x="700.6" y="643.9" width="7.4" height="1.6" fill="#6f8f14"/>
<path d="M687.7,650.9 L700.3,650.9 L696.9,658.1 L696.9,680.0 L691.1,680.0 L691.1,658.1 Z" fill="url(#trk)"/>
<polygon points="687.9,607.5 706.2,607.5 706.2,610.8 710.3,610.8 710.3,615.0 713.4,615.0 713.4,619.8 716.4,619.8 716.4,628.7 718.4,628.7 718.4,633.4 719.5,633.4 719.5,646.1 717.9,646.1 717.9,650.9 715.4,650.9 715.4,654.6 674.6,654.6 674.6,651.3 671.1,651.3 671.1,647.1 669.6,647.1 668.5,628.7 676.7,628.7 676.7,619.8 679.7,619.8 679.7,615.0 683.8,615.0 683.8,610.8 687.9,610.8" fill="#a2c30c" stroke="#7c9a12" stroke-width="1.4" stroke-linejoin="round"/>
<polygon points="709.3,612.2 712.8,616.9 715.9,621.6 715.9,631.1 718.4,631.1 718.4,646.1 715.9,646.1 715.9,650.9 712.3,652.7 709.3,652.7 712.3,645.2 713.4,631.1 711.3,621.6" fill="#8eae10"/>
<rect x="683.8" y="634.8" width="11.2" height="2.8" fill="#7f9c14"/>
<rect x="699.1" y="625.4" width="6.1" height="3.3" fill="#7f9c14"/>
<rect x="696.5" y="641.4" width="12.7" height="2.8" fill="#7f9c14"/>
<rect x="676.2" y="648.0" width="15.3" height="2.8" fill="#7f9c14"/>
<rect x="704.2" y="649.0" width="9.2" height="2.8" fill="#7f9c14"/>
<rect x="671.6" y="631.1" width="20.4" height="3.3" fill="#c6c8c0"/>
<rect x="668.5" y="628.7" width="10.2" height="1.9" fill="#6f8f14"/>
<path d="M763.1,656.9 L774.9,656.9 L771.7,662.6 L771.7,680.0 L766.3,680.0 L766.3,662.6 Z" fill="url(#trk)"/>
<polygon points="763.5,622.5 780.1,622.5 780.1,625.1 783.8,625.1 783.8,628.5 786.6,628.5 786.6,632.2 789.3,632.2 789.3,639.3 791.2,639.3 791.2,643.1 792.1,643.1 792.1,653.1 790.7,653.1 790.7,656.9 788.4,656.9 788.4,659.9 751.4,659.9 751.4,657.3 748.2,657.3 748.2,653.9 746.8,653.9 745.9,639.3 753.3,639.3 753.3,632.2 756.1,632.2 756.1,628.5 759.8,628.5 759.8,625.1 763.5,625.1" fill="#a2c30c" stroke="#7c9a12" stroke-width="1.4" stroke-linejoin="round"/>
<polygon points="782.9,626.2 786.1,630.0 788.9,633.7 788.9,641.2 791.2,641.2 791.2,653.1 788.9,653.1 788.9,656.9 785.6,658.4 782.9,658.4 785.6,652.4 786.6,641.2 784.7,633.7" fill="#8eae10"/>
<rect x="759.8" y="644.2" width="10.2" height="2.2" fill="#7f9c14"/>
<rect x="773.6" y="636.7" width="5.5" height="2.6" fill="#7f9c14"/>
<rect x="771.3" y="649.4" width="11.6" height="2.2" fill="#7f9c14"/>
<rect x="752.8" y="654.6" width="13.9" height="2.2" fill="#7f9c14"/>
<rect x="778.2" y="655.4" width="8.3" height="2.2" fill="#7f9c14"/>
<rect x="748.7" y="641.2" width="18.5" height="2.6" fill="#c6c8c0"/>
<rect x="745.9" y="639.3" width="9.2" height="1.6" fill="#6f8f14"/>
<path d="M835.7,651.2 L848.3,651.2 L844.8,658.4 L844.8,680.0 L839.2,680.0 L839.2,658.4 Z" fill="url(#trk)"/>
<polygon points="835.9,608.4 854.1,608.4 854.1,611.7 858.2,611.7 858.2,615.8 861.2,615.8 861.2,620.5 864.3,620.5 864.3,629.3 866.3,629.3 866.3,634.0 867.3,634.0 867.3,646.6 865.8,646.6 865.8,651.2 863.3,651.2 863.3,654.9 822.8,654.9 822.8,651.7 819.2,651.7 819.2,647.5 817.7,647.5 816.7,629.3 824.8,629.3 824.8,620.5 827.8,620.5 827.8,615.8 831.9,615.8 831.9,611.7 835.9,611.7" fill="#a2c30c" stroke="#7c9a12" stroke-width="1.4" stroke-linejoin="round"/>
<polygon points="857.2,613.1 860.7,617.7 863.8,622.4 863.8,631.7 866.3,631.7 866.3,646.6 863.8,646.6 863.8,651.2 860.2,653.1 857.2,653.1 860.2,645.6 861.2,631.7 859.2,622.4" fill="#8eae10"/>
<rect x="831.9" y="635.4" width="11.1" height="2.8" fill="#7f9c14"/>
<rect x="847.1" y="626.1" width="6.1" height="3.3" fill="#7f9c14"/>
<rect x="844.5" y="641.9" width="12.7" height="2.8" fill="#7f9c14"/>
<rect x="824.3" y="648.4" width="15.2" height="2.8" fill="#7f9c14"/>
<rect x="852.1" y="649.4" width="9.1" height="2.8" fill="#7f9c14"/>
<rect x="819.7" y="631.7" width="20.2" height="3.3" fill="#c6c8c0"/>
<rect x="816.7" y="629.3" width="10.1" height="1.9" fill="#6f8f14"/>
<path d="M1120.9,662.7 L1130.1,662.7 L1127.6,667.0 L1127.6,680.0 L1123.4,680.0 L1123.4,667.0 Z" fill="url(#trk)"/>
<polygon points="1122.2,637.0 1132.1,637.0 1132.1,639.0 1134.2,639.0 1134.2,641.5 1135.9,641.5 1135.9,644.3 1137.5,644.3 1137.5,649.6 1138.6,649.6 1138.6,652.4 1139.1,652.4 1139.1,659.9 1138.3,659.9 1138.3,662.7 1137.0,662.7 1137.0,665.0 1115.1,665.0 1115.1,663.0 1113.2,663.0 1113.2,660.5 1112.4,660.5 1111.8,649.6 1116.2,649.6 1116.2,644.3 1117.9,644.3 1117.9,641.5 1120.0,641.5 1120.0,639.0 1122.2,639.0" fill="#a2c30c" stroke="#7c9a12" stroke-width="1.4" stroke-linejoin="round"/>
<polygon points="1133.7,639.8 1135.6,642.6 1137.2,645.4 1137.2,651.0 1138.6,651.0 1138.6,659.9 1137.2,659.9 1137.2,662.7 1135.3,663.8 1133.7,663.8 1135.3,659.4 1135.9,651.0 1134.8,645.4" fill="#8eae10"/>
<rect x="1120.0" y="653.2" width="6.0" height="1.8" fill="#7f9c14"/>
<rect x="1128.2" y="647.6" width="3.3" height="2.0" fill="#7f9c14"/>
<rect x="1126.9" y="657.1" width="6.8" height="1.8" fill="#7f9c14"/>
<rect x="1115.9" y="661.0" width="8.2" height="1.8" fill="#7f9c14"/>
<rect x="1131.0" y="661.6" width="4.9" height="1.8" fill="#7f9c14"/>
<rect x="1113.5" y="651.0" width="10.9" height="2.2" fill="#c6c8c0"/>
<rect x="1111.8" y="649.6" width="5.5" height="1.6" fill="#6f8f14"/>
<path d="M1153.3,662.7 L1162.3,662.7 L1159.9,667.0 L1159.9,680.0 L1155.7,680.0 L1155.7,667.0 Z" fill="url(#trk)"/>
<polygon points="1154.6,637.0 1164.1,637.0 1164.1,639.0 1166.2,639.0 1166.2,641.5 1167.8,641.5 1167.8,644.3 1169.3,644.3 1169.3,649.6 1170.4,649.6 1170.4,652.4 1170.9,652.4 1170.9,659.9 1170.1,659.9 1170.1,662.7 1168.8,662.7 1168.8,665.0 1147.8,665.0 1147.8,663.0 1146.0,663.0 1146.0,660.5 1145.2,660.5 1144.7,649.6 1148.9,649.6 1148.9,644.3 1150.5,644.3 1150.5,641.5 1152.5,641.5 1152.5,639.0 1154.6,639.0" fill="#a2c30c" stroke="#7c9a12" stroke-width="1.4" stroke-linejoin="round"/>
<polygon points="1165.7,639.8 1167.5,642.6 1169.1,645.4 1169.1,651.0 1170.4,651.0 1170.4,659.9 1169.1,659.9 1169.1,662.7 1167.2,663.8 1165.7,663.8 1167.2,659.4 1167.8,651.0 1166.7,645.4" fill="#8eae10"/>
<rect x="1152.5" y="653.2" width="5.8" height="1.8" fill="#7f9c14"/>
<rect x="1160.4" y="647.6" width="3.1" height="2.0" fill="#7f9c14"/>
<rect x="1159.1" y="657.1" width="6.6" height="1.8" fill="#7f9c14"/>
<rect x="1148.6" y="661.0" width="7.9" height="1.8" fill="#7f9c14"/>
<rect x="1163.0" y="661.6" width="4.7" height="1.8" fill="#7f9c14"/>
<rect x="1146.2" y="651.0" width="10.5" height="2.2" fill="#c6c8c0"/>
<rect x="1144.7" y="649.6" width="5.2" height="1.6" fill="#6f8f14"/>
<path d="M1137.1,658.3 L1146.9,658.3 L1144.2,663.7 L1144.2,680.0 L1139.8,680.0 L1139.8,663.7 Z" fill="url(#trk)"/>
<polygon points="1138.2,626.0 1149.6,626.0 1149.6,628.5 1152.1,628.5 1152.1,631.6 1154.0,631.6 1154.0,635.1 1155.9,635.1 1155.9,641.8 1157.1,641.8 1157.1,645.3 1157.8,645.3 1157.8,654.8 1156.8,654.8 1156.8,658.3 1155.2,658.3 1155.2,661.1 1130.0,661.1 1130.0,658.6 1127.8,658.6 1127.8,655.5 1126.9,655.5 1126.2,641.8 1131.3,641.8 1131.3,635.1 1133.2,635.1 1133.2,631.6 1135.7,631.6 1135.7,628.5 1138.2,628.5" fill="#a2c30c" stroke="#7c9a12" stroke-width="1.4" stroke-linejoin="round"/>
<polygon points="1151.5,629.5 1153.7,633.0 1155.5,636.5 1155.5,643.5 1157.1,643.5 1157.1,654.8 1155.5,654.8 1155.5,658.3 1153.3,659.7 1151.5,659.7 1153.3,654.1 1154.0,643.5 1152.7,636.5" fill="#8eae10"/>
<rect x="1135.7" y="646.4" width="6.9" height="2.1" fill="#7f9c14"/>
<rect x="1145.2" y="639.3" width="3.8" height="2.5" fill="#7f9c14"/>
<rect x="1143.6" y="651.3" width="7.9" height="2.1" fill="#7f9c14"/>
<rect x="1131.0" y="656.2" width="9.4" height="2.1" fill="#7f9c14"/>
<rect x="1148.3" y="656.9" width="5.7" height="2.1" fill="#7f9c14"/>
<rect x="1128.1" y="643.5" width="12.6" height="2.5" fill="#c6c8c0"/>
<rect x="1126.2" y="641.8" width="6.3" height="1.6" fill="#6f8f14"/>
<path d="M1195.6,658.3 L1207.2,658.3 L1204.1,663.7 L1204.1,680.0 L1198.7,680.0 L1198.7,663.7 Z" fill="url(#trk)"/>
<polygon points="1196.0,626.0 1212.1,626.0 1212.1,628.5 1215.7,628.5 1215.7,631.6 1218.4,631.6 1218.4,635.1 1221.0,635.1 1221.0,641.8 1222.8,641.8 1222.8,645.3 1223.7,645.3 1223.7,654.8 1222.4,654.8 1222.4,658.3 1220.1,658.3 1220.1,661.1 1184.4,661.1 1184.4,658.6 1181.3,658.6 1181.3,655.5 1180.0,655.5 1179.1,641.8 1186.2,641.8 1186.2,635.1 1188.9,635.1 1188.9,631.6 1192.5,631.6 1192.5,628.5 1196.0,628.5" fill="#a2c30c" stroke="#7c9a12" stroke-width="1.4" stroke-linejoin="round"/>
<polygon points="1214.8,629.5 1217.9,633.0 1220.6,636.5 1220.6,643.5 1222.8,643.5 1222.8,654.8 1220.6,654.8 1220.6,658.3 1217.5,659.7 1214.8,659.7 1217.5,654.1 1218.4,643.5 1216.6,636.5" fill="#8eae10"/>
<rect x="1192.5" y="646.4" width="9.8" height="2.1" fill="#7f9c14"/>
<rect x="1205.9" y="639.3" width="5.4" height="2.5" fill="#7f9c14"/>
<rect x="1203.6" y="651.3" width="11.2" height="2.1" fill="#7f9c14"/>
<rect x="1185.8" y="656.2" width="13.4" height="2.1" fill="#7f9c14"/>
<rect x="1210.3" y="656.9" width="8.0" height="2.1" fill="#7f9c14"/>
<rect x="1181.8" y="643.5" width="17.9" height="2.5" fill="#c6c8c0"/>
<rect x="1179.1" y="641.8" width="8.9" height="1.6" fill="#6f8f14"/>
<path d="M1320.7,661.9 L1329.3,661.9 L1327.0,666.4 L1327.0,680.0 L1323.0,680.0 L1323.0,666.4 Z" fill="url(#trk)"/>
<polygon points="1322.2,635.0 1330.5,635.0 1330.5,637.0 1332.4,637.0 1332.4,639.7 1333.8,639.7 1333.8,642.6 1335.2,642.6 1335.2,648.2 1336.1,648.2 1336.1,651.1 1336.5,651.1 1336.5,659.0 1335.9,659.0 1335.9,661.9 1334.7,661.9 1334.7,664.2 1316.2,664.2 1316.2,662.2 1314.6,662.2 1314.6,659.6 1313.9,659.6 1313.5,648.2 1317.1,648.2 1317.1,642.6 1318.5,642.6 1318.5,639.7 1320.4,639.7 1320.4,637.0 1322.2,637.0" fill="#a2c30c" stroke="#7c9a12" stroke-width="1.4" stroke-linejoin="round"/>
<polygon points="1331.9,637.9 1333.5,640.9 1334.9,643.8 1334.9,649.6 1336.1,649.6 1336.1,659.0 1334.9,659.0 1334.9,661.9 1333.3,663.1 1331.9,663.1 1333.3,658.4 1333.8,649.6 1332.9,643.8" fill="#8eae10"/>
<rect x="1320.4" y="652.0" width="5.1" height="1.8" fill="#7f9c14"/>
<rect x="1327.3" y="646.1" width="2.8" height="2.0" fill="#7f9c14"/>
<rect x="1326.2" y="656.1" width="5.8" height="1.8" fill="#7f9c14"/>
<rect x="1316.9" y="660.2" width="6.9" height="1.8" fill="#7f9c14"/>
<rect x="1329.6" y="660.7" width="4.2" height="1.8" fill="#7f9c14"/>
<rect x="1314.8" y="649.6" width="9.2" height="2.2" fill="#c6c8c0"/>
<rect x="1313.5" y="648.2" width="4.6" height="1.6" fill="#6f8f14"/>
<path d="M1338.6,655.9 L1348.0,655.9 L1345.5,661.9 L1345.5,680.0 L1341.1,680.0 L1341.1,661.9 Z" fill="url(#trk)"/>
<polygon points="1339.8,620.0 1350.4,620.0 1350.4,622.7 1352.7,622.7 1352.7,626.2 1354.5,626.2 1354.5,630.1 1356.2,630.1 1356.2,637.5 1357.4,637.5 1357.4,641.5 1358.0,641.5 1358.0,652.0 1357.1,652.0 1357.1,655.9 1355.6,655.9 1355.6,659.0 1332.1,659.0 1332.1,656.3 1330.1,656.3 1330.1,652.8 1329.2,652.8 1328.6,637.5 1333.3,637.5 1333.3,630.1 1335.1,630.1 1335.1,626.2 1337.4,626.2 1337.4,622.7 1339.8,622.7" fill="#a2c30c" stroke="#7c9a12" stroke-width="1.4" stroke-linejoin="round"/>
<polygon points="1352.1,623.9 1354.2,627.8 1355.9,631.7 1355.9,639.5 1357.4,639.5 1357.4,652.0 1355.9,652.0 1355.9,655.9 1353.9,657.4 1352.1,657.4 1353.9,651.2 1354.5,639.5 1353.3,631.7" fill="#8eae10"/>
<rect x="1337.4" y="642.6" width="6.5" height="2.3" fill="#7f9c14"/>
<rect x="1346.2" y="634.8" width="3.5" height="2.7" fill="#7f9c14"/>
<rect x="1344.8" y="648.1" width="7.4" height="2.3" fill="#7f9c14"/>
<rect x="1333.0" y="653.5" width="8.8" height="2.3" fill="#7f9c14"/>
<rect x="1349.2" y="654.3" width="5.3" height="2.3" fill="#7f9c14"/>
<rect x="1330.4" y="639.5" width="11.8" height="2.7" fill="#c6c8c0"/>
<rect x="1328.6" y="637.5" width="5.9" height="1.6" fill="#6f8f14"/>
<path d="M1355.9,660.7 L1364.1,660.7 L1361.9,665.5 L1361.9,680.0 L1358.1,680.0 L1358.1,665.5 Z" fill="url(#trk)"/>
<polygon points="1357.5,632.0 1365.0,632.0 1365.0,634.2 1366.7,634.2 1366.7,637.0 1368.0,637.0 1368.0,640.1 1369.2,640.1 1369.2,646.0 1370.1,646.0 1370.1,649.2 1370.5,649.2 1370.5,657.6 1369.9,657.6 1369.9,660.7 1368.8,660.7 1368.8,663.2 1352.0,663.2 1352.0,661.0 1350.5,661.0 1350.5,658.2 1349.9,658.2 1349.5,646.0 1352.9,646.0 1352.9,640.1 1354.1,640.1 1354.1,637.0 1355.8,637.0 1355.8,634.2 1357.5,634.2" fill="#a2c30c" stroke="#7c9a12" stroke-width="1.4" stroke-linejoin="round"/>
<polygon points="1366.3,635.1 1367.8,638.2 1369.0,641.4 1369.0,647.6 1370.1,647.6 1370.1,657.6 1369.0,657.6 1369.0,660.7 1367.6,662.0 1366.3,662.0 1367.6,657.0 1368.0,647.6 1367.1,641.4" fill="#8eae10"/>
<rect x="1355.8" y="650.1" width="4.6" height="1.9" fill="#7f9c14"/>
<rect x="1362.1" y="643.9" width="2.5" height="2.2" fill="#7f9c14"/>
<rect x="1361.0" y="654.5" width="5.2" height="1.9" fill="#7f9c14"/>
<rect x="1352.7" y="658.8" width="6.3" height="1.9" fill="#7f9c14"/>
<rect x="1364.2" y="659.5" width="3.8" height="1.9" fill="#7f9c14"/>
<rect x="1350.8" y="647.6" width="8.4" height="2.2" fill="#c6c8c0"/>
<rect x="1349.5" y="646.0" width="4.2" height="1.6" fill="#6f8f14"/>
<path d="M1294.4,650.9 L1307.2,650.9 L1303.7,658.1 L1303.7,680.0 L1297.9,680.0 L1297.9,658.1 Z" fill="url(#trk)"/>
<polygon points="1294.5,607.5 1313.4,607.5 1313.4,610.8 1317.6,610.8 1317.6,615.0 1320.8,615.0 1320.8,619.8 1323.9,619.8 1323.9,628.7 1326.0,628.7 1326.0,633.4 1327.0,633.4 1327.0,646.1 1325.5,646.1 1325.5,650.9 1322.8,650.9 1322.8,654.6 1280.8,654.6 1280.8,651.3 1277.2,651.3 1277.2,647.1 1275.6,647.1 1274.5,628.7 1283.0,628.7 1283.0,619.8 1286.1,619.8 1286.1,615.0 1290.3,615.0 1290.3,610.8 1294.5,610.8" fill="#a2c30c" stroke="#7c9a12" stroke-width="1.4" stroke-linejoin="round"/>
<polygon points="1316.5,612.2 1320.2,616.9 1323.4,621.6 1323.4,631.1 1326.0,631.1 1326.0,646.1 1323.4,646.1 1323.4,650.9 1319.7,652.7 1316.5,652.7 1319.7,645.2 1320.8,631.1 1318.6,621.6" fill="#8eae10"/>
<rect x="1290.3" y="634.8" width="11.6" height="2.8" fill="#7f9c14"/>
<rect x="1306.0" y="625.4" width="6.3" height="3.3" fill="#7f9c14"/>
<rect x="1303.4" y="641.4" width="13.1" height="2.8" fill="#7f9c14"/>
<rect x="1282.4" y="648.0" width="15.8" height="2.8" fill="#7f9c14"/>
<rect x="1311.3" y="649.0" width="9.4" height="2.8" fill="#7f9c14"/>
<rect x="1277.7" y="631.1" width="21.0" height="3.3" fill="#c6c8c0"/>
<rect x="1274.5" y="628.7" width="10.5" height="1.9" fill="#6f8f14"/>
<path d="M1405.5,663.1 L1414.5,663.1 L1412.1,667.3 L1412.1,680.0 L1407.9,680.0 L1407.9,667.3 Z" fill="url(#trk)"/>
<polygon points="1406.8,638.0 1416.3,638.0 1416.3,639.9 1418.4,639.9 1418.4,642.4 1420.0,642.4 1420.0,645.1 1421.5,645.1 1421.5,650.3 1422.6,650.3 1422.6,653.0 1423.1,653.0 1423.1,660.4 1422.3,660.4 1422.3,663.1 1421.0,663.1 1421.0,665.3 1400.0,665.3 1400.0,663.4 1398.2,663.4 1398.2,660.9 1397.4,660.9 1396.9,650.3 1401.1,650.3 1401.1,645.1 1402.7,645.1 1402.7,642.4 1404.8,642.4 1404.8,639.9 1406.8,639.9" fill="#a2c30c" stroke="#7c9a12" stroke-width="1.4" stroke-linejoin="round"/>
<polygon points="1417.9,640.7 1419.7,643.5 1421.3,646.2 1421.3,651.6 1422.6,651.6 1422.6,660.4 1421.3,660.4 1421.3,663.1 1419.5,664.2 1417.9,664.2 1419.5,659.8 1420.0,651.6 1418.9,646.2" fill="#8eae10"/>
<rect x="1404.8" y="653.8" width="5.8" height="1.8" fill="#7f9c14"/>
<rect x="1412.6" y="648.4" width="3.1" height="1.9" fill="#7f9c14"/>
<rect x="1411.3" y="657.7" width="6.6" height="1.8" fill="#7f9c14"/>
<rect x="1400.8" y="661.5" width="7.9" height="1.8" fill="#7f9c14"/>
<rect x="1415.2" y="662.0" width="4.7" height="1.8" fill="#7f9c14"/>
<rect x="1398.5" y="651.6" width="10.5" height="2.2" fill="#c6c8c0"/>
<rect x="1396.9" y="650.3" width="5.2" height="1.6" fill="#6f8f14"/>
<path d="M1383.4,658.2 L1393.2,658.2 L1390.5,663.6 L1390.5,680.0 L1386.1,680.0 L1386.1,663.6 Z" fill="url(#trk)"/>
<polygon points="1384.5,625.8 1395.9,625.8 1395.9,628.3 1398.4,628.3 1398.4,631.4 1400.3,631.4 1400.3,635.0 1402.2,635.0 1402.2,641.7 1403.4,641.7 1403.4,645.2 1404.0,645.2 1404.0,654.7 1403.1,654.7 1403.1,658.2 1401.5,658.2 1401.5,661.0 1376.3,661.0 1376.3,658.6 1374.1,658.6 1374.1,655.4 1373.2,655.4 1372.5,641.7 1377.6,641.7 1377.6,635.0 1379.5,635.0 1379.5,631.4 1382.0,631.4 1382.0,628.3 1384.5,628.3" fill="#a2c30c" stroke="#7c9a12" stroke-width="1.4" stroke-linejoin="round"/>
<polygon points="1397.8,629.3 1400.0,632.8 1401.8,636.4 1401.8,643.4 1403.4,643.4 1403.4,654.7 1401.8,654.7 1401.8,658.2 1399.6,659.6 1397.8,659.6 1399.6,654.0 1400.3,643.4 1399.0,636.4" fill="#8eae10"/>
<rect x="1382.0" y="646.2" width="6.9" height="2.1" fill="#7f9c14"/>
<rect x="1391.5" y="639.2" width="3.8" height="2.5" fill="#7f9c14"/>
<rect x="1389.9" y="651.2" width="7.9" height="2.1" fill="#7f9c14"/>
<rect x="1377.3" y="656.1" width="9.4" height="2.1" fill="#7f9c14"/>
<rect x="1394.6" y="656.8" width="5.7" height="2.1" fill="#7f9c14"/>
<rect x="1374.4" y="643.4" width="12.6" height="2.5" fill="#c6c8c0"/>
<rect x="1372.5" y="641.7" width="6.3" height="1.6" fill="#6f8f14"/>
<path d="M1455.7,661.9 L1464.3,661.9 L1462.0,666.4 L1462.0,680.0 L1458.0,680.0 L1458.0,666.4 Z" fill="url(#trk)"/>
<polygon points="1457.2,635.0 1465.5,635.0 1465.5,637.0 1467.4,637.0 1467.4,639.7 1468.8,639.7 1468.8,642.6 1470.2,642.6 1470.2,648.2 1471.1,648.2 1471.1,651.1 1471.5,651.1 1471.5,659.0 1470.9,659.0 1470.9,661.9 1469.7,661.9 1469.7,664.2 1451.2,664.2 1451.2,662.2 1449.6,662.2 1449.6,659.6 1448.9,659.6 1448.5,648.2 1452.1,648.2 1452.1,642.6 1453.5,642.6 1453.5,639.7 1455.4,639.7 1455.4,637.0 1457.2,637.0" fill="#a2c30c" stroke="#7c9a12" stroke-width="1.4" stroke-linejoin="round"/>
<polygon points="1466.9,637.9 1468.5,640.9 1469.9,643.8 1469.9,649.6 1471.1,649.6 1471.1,659.0 1469.9,659.0 1469.9,661.9 1468.3,663.1 1466.9,663.1 1468.3,658.4 1468.8,649.6 1467.9,643.8" fill="#8eae10"/>
<rect x="1455.4" y="652.0" width="5.1" height="1.8" fill="#7f9c14"/>
<rect x="1462.3" y="646.1" width="2.8" height="2.0" fill="#7f9c14"/>
<rect x="1461.2" y="656.1" width="5.8" height="1.8" fill="#7f9c14"/>
<rect x="1451.9" y="660.2" width="6.9" height="1.8" fill="#7f9c14"/>
<rect x="1464.6" y="660.7" width="4.2" height="1.8" fill="#7f9c14"/>
<rect x="1449.8" y="649.6" width="9.2" height="2.2" fill="#c6c8c0"/>
<rect x="1448.5" y="648.2" width="4.6" height="1.6" fill="#6f8f14"/>
<path d="M1432.8,652.2 L1445.2,652.2 L1441.8,659.1 L1441.8,680.0 L1436.2,680.0 L1436.2,659.1 Z" fill="url(#trk)"/>
<polygon points="1433.0,610.8 1451.1,610.8 1451.1,613.9 1455.1,613.9 1455.1,618.0 1458.2,618.0 1458.2,622.5 1461.2,622.5 1461.2,631.0 1463.2,631.0 1463.2,635.5 1464.2,635.5 1464.2,647.7 1462.7,647.7 1462.7,652.2 1460.2,652.2 1460.2,655.8 1419.8,655.8 1419.8,652.6 1416.3,652.6 1416.3,648.6 1414.8,648.6 1413.8,631.0 1421.9,631.0 1421.9,622.5 1424.9,622.5 1424.9,618.0 1428.9,618.0 1428.9,613.9 1433.0,613.9" fill="#a2c30c" stroke="#7c9a12" stroke-width="1.4" stroke-linejoin="round"/>
<polygon points="1454.1,615.3 1457.6,619.8 1460.7,624.3 1460.7,633.3 1463.2,633.3 1463.2,647.7 1460.7,647.7 1460.7,652.2 1457.1,654.0 1454.1,654.0 1457.1,646.8 1458.2,633.3 1456.1,624.3" fill="#8eae10"/>
<rect x="1428.9" y="636.9" width="11.1" height="2.7" fill="#7f9c14"/>
<rect x="1444.0" y="627.9" width="6.0" height="3.1" fill="#7f9c14"/>
<rect x="1441.5" y="643.2" width="12.6" height="2.7" fill="#7f9c14"/>
<rect x="1421.4" y="649.5" width="15.1" height="2.7" fill="#7f9c14"/>
<rect x="1449.1" y="650.4" width="9.1" height="2.7" fill="#7f9c14"/>
<rect x="1416.8" y="633.3" width="20.2" height="3.1" fill="#c6c8c0"/>
<rect x="1413.8" y="631.0" width="10.1" height="1.8" fill="#6f8f14"/>
<path d="M1486.7,663.9 L1494.9,663.9 L1492.7,667.9 L1492.7,680.0 L1488.9,680.0 L1488.9,667.9 Z" fill="url(#trk)"/>
<polygon points="1488.3,640.0 1495.8,640.0 1495.8,641.8 1497.5,641.8 1497.5,644.2 1498.8,644.2 1498.8,646.8 1500.0,646.8 1500.0,651.7 1500.9,651.7 1500.9,654.3 1501.3,654.3 1501.3,661.3 1500.7,661.3 1500.7,663.9 1499.6,663.9 1499.6,666.0 1482.8,666.0 1482.8,664.2 1481.3,664.2 1481.3,661.8 1480.7,661.8 1480.3,651.7 1483.7,651.7 1483.7,646.8 1484.9,646.8 1484.9,644.2 1486.6,644.2 1486.6,641.8 1488.3,641.8" fill="#a2c30c" stroke="#7c9a12" stroke-width="1.4" stroke-linejoin="round"/>
<polygon points="1497.1,642.6 1498.6,645.2 1499.8,647.8 1499.8,653.0 1500.9,653.0 1500.9,661.3 1499.8,661.3 1499.8,663.9 1498.4,665.0 1497.1,665.0 1498.4,660.8 1498.8,653.0 1497.9,647.8" fill="#8eae10"/>
<rect x="1486.6" y="655.1" width="4.6" height="1.8" fill="#7f9c14"/>
<rect x="1492.9" y="649.9" width="2.5" height="1.8" fill="#7f9c14"/>
<rect x="1491.8" y="658.7" width="5.2" height="1.8" fill="#7f9c14"/>
<rect x="1483.5" y="662.4" width="6.3" height="1.8" fill="#7f9c14"/>
<rect x="1495.0" y="662.9" width="3.8" height="1.8" fill="#7f9c14"/>
<rect x="1481.6" y="653.0" width="8.4" height="2.2" fill="#c6c8c0"/>
<rect x="1480.3" y="651.7" width="4.2" height="1.6" fill="#6f8f14"/>
<path d="M1472.3,659.2 L1481.1,659.2 L1478.7,664.4 L1478.7,680.0 L1474.7,680.0 L1474.7,664.4 Z" fill="url(#trk)"/>
<polygon points="1473.8,628.3 1482.5,628.3 1482.5,630.7 1484.4,630.7 1484.4,633.7 1485.9,633.7 1485.9,637.0 1487.3,637.0 1487.3,643.4 1488.3,643.4 1488.3,646.8 1488.8,646.8 1488.8,655.9 1488.1,655.9 1488.1,659.2 1486.8,659.2 1486.8,661.9 1467.5,661.9 1467.5,659.6 1465.8,659.6 1465.8,656.5 1465.1,656.5 1464.6,643.4 1468.5,643.4 1468.5,637.0 1469.9,637.0 1469.9,633.7 1471.9,633.7 1471.9,630.7 1473.8,630.7" fill="#a2c30c" stroke="#7c9a12" stroke-width="1.4" stroke-linejoin="round"/>
<polygon points="1483.9,631.7 1485.6,635.0 1487.1,638.4 1487.1,645.1 1488.3,645.1 1488.3,655.9 1487.1,655.9 1487.1,659.2 1485.4,660.6 1483.9,660.6 1485.4,655.2 1485.9,645.1 1484.9,638.4" fill="#8eae10"/>
<rect x="1471.9" y="647.8" width="5.3" height="2.0" fill="#7f9c14"/>
<rect x="1479.1" y="641.1" width="2.9" height="2.4" fill="#7f9c14"/>
<rect x="1477.9" y="652.5" width="6.0" height="2.0" fill="#7f9c14"/>
<rect x="1468.2" y="657.2" width="7.2" height="2.0" fill="#7f9c14"/>
<rect x="1481.5" y="657.9" width="4.3" height="2.0" fill="#7f9c14"/>
<rect x="1466.1" y="645.1" width="9.7" height="2.4" fill="#c6c8c0"/>
<rect x="1464.6" y="643.4" width="4.8" height="1.6" fill="#6f8f14"/>
<path d="M1515.3,656.9 L1526.3,656.9 L1523.3,662.6 L1523.3,680.0 L1518.3,680.0 L1518.3,662.6 Z" fill="url(#trk)"/>
<polygon points="1516.0,622.5 1530.4,622.5 1530.4,625.1 1533.6,625.1 1533.6,628.5 1536.0,628.5 1536.0,632.2 1538.4,632.2 1538.4,639.3 1540.0,639.3 1540.0,643.1 1540.8,643.1 1540.8,653.1 1539.6,653.1 1539.6,656.9 1537.6,656.9 1537.6,659.9 1505.6,659.9 1505.6,657.3 1502.8,657.3 1502.8,653.9 1501.6,653.9 1500.8,639.3 1507.2,639.3 1507.2,632.2 1509.6,632.2 1509.6,628.5 1512.8,628.5 1512.8,625.1 1516.0,625.1" fill="#a2c30c" stroke="#7c9a12" stroke-width="1.4" stroke-linejoin="round"/>
<polygon points="1532.8,626.2 1535.6,630.0 1538.0,633.7 1538.0,641.2 1540.0,641.2 1540.0,653.1 1538.0,653.1 1538.0,656.9 1535.2,658.4 1532.8,658.4 1535.2,652.4 1536.0,641.2 1534.4,633.7" fill="#8eae10"/>
<rect x="1512.8" y="644.2" width="8.8" height="2.2" fill="#7f9c14"/>
<rect x="1524.8" y="636.7" width="4.8" height="2.6" fill="#7f9c14"/>
<rect x="1522.8" y="649.4" width="10.0" height="2.2" fill="#7f9c14"/>
<rect x="1506.8" y="654.6" width="12.0" height="2.2" fill="#7f9c14"/>
<rect x="1528.8" y="655.4" width="7.2" height="2.2" fill="#7f9c14"/>
<rect x="1503.2" y="641.2" width="16.0" height="2.6" fill="#c6c8c0"/>
<rect x="1500.8" y="639.3" width="8.0" height="1.6" fill="#6f8f14"/>
<path d="M1568.3,665.7 L1577.3,665.7 L1574.8,669.2 L1574.8,680.0 L1570.8,680.0 L1570.8,669.2 Z" fill="url(#trk)"/>
<polygon points="1569.7,644.4 1579.0,644.4 1579.0,646.0 1581.0,646.0 1581.0,648.1 1582.6,648.1 1582.6,650.4 1584.1,650.4 1584.1,654.8 1585.1,654.8 1585.1,657.1 1585.7,657.1 1585.7,663.4 1584.9,663.4 1584.9,665.7 1583.6,665.7 1583.6,667.5 1563.0,667.5 1563.0,665.9 1561.2,665.9 1561.2,663.8 1560.5,663.8 1559.9,654.8 1564.1,654.8 1564.1,650.4 1565.6,650.4 1565.6,648.1 1567.7,648.1 1567.7,646.0 1569.7,646.0" fill="#a2c30c" stroke="#7c9a12" stroke-width="1.4" stroke-linejoin="round"/>
<polygon points="1580.5,646.7 1582.3,649.0 1583.9,651.3 1583.9,656.0 1585.1,656.0 1585.1,663.4 1583.9,663.4 1583.9,665.7 1582.1,666.6 1580.5,666.6 1582.1,662.9 1582.6,656.0 1581.5,651.3" fill="#8eae10"/>
<rect x="1567.7" y="657.8" width="5.7" height="1.8" fill="#7f9c14"/>
<rect x="1575.4" y="653.2" width="3.1" height="1.8" fill="#7f9c14"/>
<rect x="1574.1" y="661.1" width="6.4" height="1.8" fill="#7f9c14"/>
<rect x="1563.8" y="664.3" width="7.7" height="1.8" fill="#7f9c14"/>
<rect x="1577.9" y="664.8" width="4.6" height="1.8" fill="#7f9c14"/>
<rect x="1561.5" y="656.0" width="10.3" height="2.2" fill="#c6c8c0"/>
<rect x="1559.9" y="654.8" width="5.1" height="1.6" fill="#6f8f14"/>
<path d="M1633.9,666.3 L1642.9,666.3 L1640.4,669.7 L1640.4,680.0 L1636.4,680.0 L1636.4,669.7 Z" fill="url(#trk)"/>
<polygon points="1635.3,646.0 1644.6,646.0 1644.6,647.5 1646.7,647.5 1646.7,649.5 1648.2,649.5 1648.2,651.7 1649.8,651.7 1649.8,655.9 1650.8,655.9 1650.8,658.2 1651.3,658.2 1651.3,664.1 1650.5,664.1 1650.5,666.3 1649.2,666.3 1649.2,668.1 1628.6,668.1 1628.6,666.6 1626.8,666.6 1626.8,664.6 1626.0,664.6 1625.5,655.9 1629.6,655.9 1629.6,651.7 1631.2,651.7 1631.2,649.5 1633.2,649.5 1633.2,647.5 1635.3,647.5" fill="#a2c30c" stroke="#7c9a12" stroke-width="1.4" stroke-linejoin="round"/>
<polygon points="1646.1,648.2 1648.0,650.4 1649.5,652.6 1649.5,657.0 1650.8,657.0 1650.8,664.1 1649.5,664.1 1649.5,666.3 1647.7,667.2 1646.1,667.2 1647.7,663.7 1648.2,657.0 1647.2,652.6" fill="#8eae10"/>
<rect x="1633.2" y="658.8" width="5.7" height="1.8" fill="#7f9c14"/>
<rect x="1641.0" y="654.4" width="3.1" height="1.8" fill="#7f9c14"/>
<rect x="1639.7" y="661.9" width="6.5" height="1.8" fill="#7f9c14"/>
<rect x="1629.4" y="665.0" width="7.7" height="1.8" fill="#7f9c14"/>
<rect x="1643.6" y="665.4" width="4.6" height="1.8" fill="#7f9c14"/>
<rect x="1627.0" y="657.0" width="10.3" height="2.2" fill="#c6c8c0"/>
<rect x="1625.5" y="655.9" width="5.2" height="1.6" fill="#6f8f14"/>
<path d="M1660.8,657.4 L1672.4,657.4 L1669.2,663.0 L1669.2,680.0 L1664.0,680.0 L1664.0,663.0 Z" fill="url(#trk)"/>
<polygon points="1661.3,623.8 1677.2,623.8 1677.2,626.3 1680.7,626.3 1680.7,629.6 1683.4,629.6 1683.4,633.3 1686.0,633.3 1686.0,640.2 1687.8,640.2 1687.8,643.9 1688.6,643.9 1688.6,653.7 1687.3,653.7 1687.3,657.4 1685.1,657.4 1685.1,660.3 1649.8,660.3 1649.8,657.8 1646.8,657.8 1646.8,654.5 1645.4,654.5 1644.5,640.2 1651.6,640.2 1651.6,633.3 1654.3,633.3 1654.3,629.6 1657.8,629.6 1657.8,626.3 1661.3,626.3" fill="#a2c30c" stroke="#7c9a12" stroke-width="1.4" stroke-linejoin="round"/>
<polygon points="1679.8,627.4 1682.9,631.1 1685.6,634.7 1685.6,642.0 1687.8,642.0 1687.8,653.7 1685.6,653.7 1685.6,657.4 1682.5,658.9 1679.8,658.9 1682.5,653.0 1683.4,642.0 1681.6,634.7" fill="#8eae10"/>
<rect x="1657.8" y="645.0" width="9.7" height="2.2" fill="#7f9c14"/>
<rect x="1671.0" y="637.6" width="5.3" height="2.6" fill="#7f9c14"/>
<rect x="1668.8" y="650.1" width="11.0" height="2.2" fill="#7f9c14"/>
<rect x="1651.2" y="655.2" width="13.2" height="2.2" fill="#7f9c14"/>
<rect x="1675.4" y="655.9" width="7.9" height="2.2" fill="#7f9c14"/>
<rect x="1647.2" y="642.0" width="17.6" height="2.6" fill="#c6c8c0"/>
<rect x="1644.5" y="640.2" width="8.8" height="1.6" fill="#6f8f14"/>
<path d="M1716.3,665.9 L1725.7,665.9 L1723.2,669.4 L1723.2,680.0 L1718.8,680.0 L1718.8,669.4 Z" fill="url(#trk)"/>
<polygon points="1717.5,645.0 1728.1,645.0 1728.1,646.6 1730.4,646.6 1730.4,648.6 1732.2,648.6 1732.2,650.9 1733.9,650.9 1733.9,655.2 1735.1,655.2 1735.1,657.5 1735.7,657.5 1735.7,663.7 1734.8,663.7 1734.8,665.9 1733.3,665.9 1733.3,667.8 1709.8,667.8 1709.8,666.2 1707.8,666.2 1707.8,664.1 1706.9,664.1 1706.3,655.2 1711.0,655.2 1711.0,650.9 1712.8,650.9 1712.8,648.6 1715.1,648.6 1715.1,646.6 1717.5,646.6" fill="#a2c30c" stroke="#7c9a12" stroke-width="1.4" stroke-linejoin="round"/>
<polygon points="1729.8,647.3 1731.9,649.5 1733.6,651.8 1733.6,656.4 1735.1,656.4 1735.1,663.7 1733.6,663.7 1733.6,665.9 1731.6,666.8 1729.8,666.8 1731.6,663.2 1732.2,656.4 1731.0,651.8" fill="#8eae10"/>
<rect x="1715.1" y="658.2" width="6.5" height="1.8" fill="#7f9c14"/>
<rect x="1723.9" y="653.6" width="3.5" height="1.8" fill="#7f9c14"/>
<rect x="1722.5" y="661.4" width="7.4" height="1.8" fill="#7f9c14"/>
<rect x="1710.7" y="664.6" width="8.8" height="1.8" fill="#7f9c14"/>
<rect x="1726.9" y="665.0" width="5.3" height="1.8" fill="#7f9c14"/>
<rect x="1708.1" y="656.4" width="11.8" height="2.2" fill="#c6c8c0"/>
<rect x="1706.3" y="655.2" width="5.9" height="1.6" fill="#6f8f14"/>
<path d="M1761.9,669.1 L1770.1,669.1 L1767.8,671.8 L1767.8,680.0 L1764.2,680.0 L1764.2,671.8 Z" fill="url(#trk)"/>
<polygon points="1763.6,652.8 1770.8,652.8 1770.8,654.0 1772.4,654.0 1772.4,655.6 1773.6,655.6 1773.6,657.4 1774.8,657.4 1774.8,660.8 1775.6,660.8 1775.6,662.5 1776.0,662.5 1776.0,667.3 1775.4,667.3 1775.4,669.1 1774.4,669.1 1774.4,670.5 1758.4,670.5 1758.4,669.2 1757.0,669.2 1757.0,667.7 1756.4,667.7 1756.0,660.8 1759.2,660.8 1759.2,657.4 1760.4,657.4 1760.4,655.6 1762.0,655.6 1762.0,654.0 1763.6,654.0" fill="#a2c30c" stroke="#7c9a12" stroke-width="1.4" stroke-linejoin="round"/>
<polygon points="1772.0,654.6 1773.4,656.3 1774.6,658.1 1774.6,661.6 1775.6,661.6 1775.6,667.3 1774.6,667.3 1774.6,669.1 1773.2,669.8 1772.0,669.8 1773.2,666.9 1773.6,661.6 1772.8,658.1" fill="#8eae10"/>
<rect x="1762.0" y="663.1" width="4.4" height="1.8" fill="#7f9c14"/>
<rect x="1768.0" y="659.5" width="2.4" height="1.8" fill="#7f9c14"/>
<rect x="1767.0" y="665.5" width="5.0" height="1.8" fill="#7f9c14"/>
<rect x="1759.0" y="668.0" width="6.0" height="1.8" fill="#7f9c14"/>
<rect x="1770.0" y="668.4" width="3.6" height="1.8" fill="#7f9c14"/>
<rect x="1757.2" y="661.6" width="8.0" height="2.2" fill="#c6c8c0"/>
<rect x="1756.0" y="660.8" width="4.0" height="1.6" fill="#6f8f14"/>
<path d="M1783.1,665.9 L1791.9,665.9 L1789.5,669.4 L1789.5,680.0 L1785.5,680.0 L1785.5,669.4 Z" fill="url(#trk)"/>
<polygon points="1784.6,645.0 1793.3,645.0 1793.3,646.6 1795.2,646.6 1795.2,648.6 1796.7,648.6 1796.7,650.9 1798.1,650.9 1798.1,655.2 1799.1,655.2 1799.1,657.5 1799.6,657.5 1799.6,663.7 1798.9,663.7 1798.9,665.9 1797.6,665.9 1797.6,667.8 1778.3,667.8 1778.3,666.2 1776.6,666.2 1776.6,664.1 1775.9,664.1 1775.4,655.2 1779.3,655.2 1779.3,650.9 1780.7,650.9 1780.7,648.6 1782.7,648.6 1782.7,646.6 1784.6,646.6" fill="#a2c30c" stroke="#7c9a12" stroke-width="1.4" stroke-linejoin="round"/>
<polygon points="1794.7,647.3 1796.4,649.5 1797.9,651.8 1797.9,656.4 1799.1,656.4 1799.1,663.7 1797.9,663.7 1797.9,665.9 1796.2,666.8 1794.7,666.8 1796.2,663.2 1796.7,656.4 1795.7,651.8" fill="#8eae10"/>
<rect x="1782.7" y="658.2" width="5.3" height="1.8" fill="#7f9c14"/>
<rect x="1789.9" y="653.6" width="2.9" height="1.8" fill="#7f9c14"/>
<rect x="1788.7" y="661.4" width="6.0" height="1.8" fill="#7f9c14"/>
<rect x="1779.0" y="664.6" width="7.2" height="1.8" fill="#7f9c14"/>
<rect x="1792.3" y="665.0" width="4.3" height="1.8" fill="#7f9c14"/>
<rect x="1776.9" y="656.4" width="9.7" height="2.2" fill="#c6c8c0"/>
<rect x="1775.4" y="655.2" width="4.8" height="1.6" fill="#6f8f14"/>
<path d="M1834.4,665.9 L1843.6,665.9 L1841.1,669.4 L1841.1,680.0 L1836.9,680.0 L1836.9,669.4 Z" fill="url(#trk)"/>
<polygon points="1835.7,645.0 1845.6,645.0 1845.6,646.6 1847.7,646.6 1847.7,648.6 1849.4,648.6 1849.4,650.9 1851.0,650.9 1851.0,655.2 1852.1,655.2 1852.1,657.5 1852.6,657.5 1852.6,663.7 1851.8,663.7 1851.8,665.9 1850.5,665.9 1850.5,667.8 1828.6,667.8 1828.6,666.2 1826.7,666.2 1826.7,664.1 1825.9,664.1 1825.3,655.2 1829.7,655.2 1829.7,650.9 1831.4,650.9 1831.4,648.6 1833.5,648.6 1833.5,646.6 1835.7,646.6" fill="#a2c30c" stroke="#7c9a12" stroke-width="1.4" stroke-linejoin="round"/>
<polygon points="1847.2,647.3 1849.1,649.5 1850.7,651.8 1850.7,656.4 1852.1,656.4 1852.1,663.7 1850.7,663.7 1850.7,665.9 1848.8,666.8 1847.2,666.8 1848.8,663.2 1849.4,656.4 1848.3,651.8" fill="#8eae10"/>
<rect x="1833.5" y="658.2" width="6.0" height="1.8" fill="#7f9c14"/>
<rect x="1841.7" y="653.6" width="3.3" height="1.8" fill="#7f9c14"/>
<rect x="1840.4" y="661.4" width="6.8" height="1.8" fill="#7f9c14"/>
<rect x="1829.4" y="664.6" width="8.2" height="1.8" fill="#7f9c14"/>
<rect x="1844.5" y="665.0" width="4.9" height="1.8" fill="#7f9c14"/>
<rect x="1827.0" y="656.4" width="10.9" height="2.2" fill="#c6c8c0"/>
<rect x="1825.3" y="655.2" width="5.5" height="1.6" fill="#6f8f14"/>
<path d="M1808.3,658.1 L1819.7,658.1 L1816.6,663.6 L1816.6,680.0 L1811.4,680.0 L1811.4,663.6 Z" fill="url(#trk)"/>
<polygon points="1808.9,625.6 1824.2,625.6 1824.2,628.1 1827.6,628.1 1827.6,631.3 1830.2,631.3 1830.2,634.8 1832.7,634.8 1832.7,641.5 1834.4,641.5 1834.4,645.0 1835.3,645.0 1835.3,654.6 1834.0,654.6 1834.0,658.1 1831.9,658.1 1831.9,661.0 1797.8,661.0 1797.8,658.5 1794.9,658.5 1794.9,655.3 1793.6,655.3 1792.7,641.5 1799.5,641.5 1799.5,634.8 1802.1,634.8 1802.1,631.3 1805.5,631.3 1805.5,628.1 1808.9,628.1" fill="#a2c30c" stroke="#7c9a12" stroke-width="1.4" stroke-linejoin="round"/>
<polygon points="1826.8,629.1 1829.7,632.7 1832.3,636.2 1832.3,643.3 1834.4,643.3 1834.4,654.6 1832.3,654.6 1832.3,658.1 1829.3,659.5 1826.8,659.5 1829.3,653.9 1830.2,643.3 1828.5,636.2" fill="#8eae10"/>
<rect x="1805.5" y="646.1" width="9.4" height="2.1" fill="#7f9c14"/>
<rect x="1818.3" y="639.0" width="5.1" height="2.5" fill="#7f9c14"/>
<rect x="1816.1" y="651.1" width="10.6" height="2.1" fill="#7f9c14"/>
<rect x="1799.1" y="656.0" width="12.8" height="2.1" fill="#7f9c14"/>
<rect x="1822.5" y="656.7" width="7.7" height="2.1" fill="#7f9c14"/>
<rect x="1795.3" y="643.3" width="17.0" height="2.5" fill="#c6c8c0"/>
<rect x="1792.7" y="641.5" width="8.5" height="1.6" fill="#6f8f14"/>
<path d="M1859.6,664.7 L1868.4,664.7 L1866.0,668.5 L1866.0,680.0 L1862.0,680.0 L1862.0,668.5 Z" fill="url(#trk)"/>
<polygon points="1861.0,642.0 1870.0,642.0 1870.0,643.7 1872.1,643.7 1872.1,646.0 1873.6,646.0 1873.6,648.4 1875.1,648.4 1875.1,653.1 1876.1,653.1 1876.1,655.6 1876.6,655.6 1876.6,662.3 1875.8,662.3 1875.8,664.7 1874.6,664.7 1874.6,666.7 1854.4,666.7 1854.4,665.0 1852.7,665.0 1852.7,662.7 1851.9,662.7 1851.4,653.1 1855.4,653.1 1855.4,648.4 1856.9,648.4 1856.9,646.0 1859.0,646.0 1859.0,643.7 1861.0,643.7" fill="#a2c30c" stroke="#7c9a12" stroke-width="1.4" stroke-linejoin="round"/>
<polygon points="1871.6,644.5 1873.3,646.9 1874.8,649.4 1874.8,654.4 1876.1,654.4 1876.1,662.3 1874.8,662.3 1874.8,664.7 1873.1,665.7 1871.6,665.7 1873.1,661.8 1873.6,654.4 1872.6,649.4" fill="#8eae10"/>
<rect x="1859.0" y="656.3" width="5.5" height="1.8" fill="#7f9c14"/>
<rect x="1866.5" y="651.4" width="3.0" height="1.8" fill="#7f9c14"/>
<rect x="1865.3" y="659.8" width="6.3" height="1.8" fill="#7f9c14"/>
<rect x="1855.2" y="663.2" width="7.6" height="1.8" fill="#7f9c14"/>
<rect x="1869.0" y="663.7" width="4.5" height="1.8" fill="#7f9c14"/>
<rect x="1852.9" y="654.4" width="10.1" height="2.2" fill="#c6c8c0"/>
<rect x="1851.4" y="653.1" width="5.0" height="1.6" fill="#6f8f14"/>
<path d="M1847.6,661.9 L1856.4,661.9 L1854.0,666.4 L1854.0,680.0 L1850.0,680.0 L1850.0,666.4 Z" fill="url(#trk)"/>
<polygon points="1849.0,635.0 1858.0,635.0 1858.0,637.0 1860.1,637.0 1860.1,639.7 1861.6,639.7 1861.6,642.6 1863.1,642.6 1863.1,648.2 1864.1,648.2 1864.1,651.1 1864.6,651.1 1864.6,659.0 1863.8,659.0 1863.8,661.9 1862.6,661.9 1862.6,664.2 1842.4,664.2 1842.4,662.2 1840.7,662.2 1840.7,659.6 1839.9,659.6 1839.4,648.2 1843.4,648.2 1843.4,642.6 1844.9,642.6 1844.9,639.7 1847.0,639.7 1847.0,637.0 1849.0,637.0" fill="#a2c30c" stroke="#7c9a12" stroke-width="1.4" stroke-linejoin="round"/>
<polygon points="1859.6,637.9 1861.3,640.9 1862.8,643.8 1862.8,649.6 1864.1,649.6 1864.1,659.0 1862.8,659.0 1862.8,661.9 1861.1,663.1 1859.6,663.1 1861.1,658.4 1861.6,649.6 1860.6,643.8" fill="#8eae10"/>
<rect x="1847.0" y="652.0" width="5.5" height="1.8" fill="#7f9c14"/>
<rect x="1854.5" y="646.1" width="3.0" height="2.0" fill="#7f9c14"/>
<rect x="1853.3" y="656.1" width="6.3" height="1.8" fill="#7f9c14"/>
<rect x="1843.2" y="660.2" width="7.6" height="1.8" fill="#7f9c14"/>
<rect x="1857.0" y="660.7" width="4.5" height="1.8" fill="#7f9c14"/>
<rect x="1840.9" y="649.6" width="10.1" height="2.2" fill="#c6c8c0"/>
<rect x="1839.4" y="648.2" width="5.0" height="1.6" fill="#6f8f14"/>
<rect x="93" y="679" width="1785" height="3" fill="#2e2e2e"/>
<rect x="93" y="682" width="1785" height="2.5" fill="#b2b2b2"/>
<path d="M164.50,519.60 L166.00,519.60 L167.50,519.59 L169.00,519.59 L170.50,519.58 L172.00,519.58 L173.50,519.57 L175.00,519.57 L176.50,519.56 L178.00,519.56 L179.50,519.55 L181.00,519.55 L182.50,519.55 L184.00,519.54 L185.50,519.54 L187.00,519.53 L188.50,519.53 L190.00,519.52 L191.50,519.52 L193.00,519.51 L194.50,519.50 L196.00,519.49 L197.50,519.48 L199.00,519.46 L200.50,519.44 L202.00,519.41 L203.50,519.39 L205.00,519.36 L206.50,519.33 L208.00,519.30 L209.50,519.28 L211.00,519.25 L212.50,519.22 L214.00,519.19 L215.50,519.16 L217.00,519.14 L218.50,519.11 L220.00,519.08 L221.50,519.05 L223.00,519.02 L224.50,519.00 L225.99,518.97 L227.49,518.94 L228.99,518.91 L230.49,518.88 L231.99,518.85 L233.49,518.81 L234.99,518.76 L236.49,518.71 L237.99,518.65 L239.49,518.59 L240.99,518.52 L242.49,518.45 L243.98,518.38 L245.48,518.31 L246.98,518.24 L248.48,518.17 L249.98,518.10 L251.48,518.04 L252.97,517.97 L254.47,517.90 L255.97,517.83 L257.47,517.75 L258.97,517.68 L260.47,517.60 L261.96,517.52 L263.46,517.43 L264.96,517.34 L266.45,517.23 L267.95,517.13 L269.45,517.02 L270.94,516.91 L272.44,516.80 L273.93,516.68 L275.43,516.57 L276.92,516.45 L278.42,516.33 L279.91,516.19 L281.40,516.04 L282.89,515.87 L284.38,515.68 L285.86,515.48 L287.35,515.27 L288.83,515.05 L290.32,514.83 L291.80,514.61 L293.28,514.39 L294.77,514.16 L296.25,513.94 L297.73,513.70 L299.21,513.45 L300.68,513.18 L302.16,512.90 L303.62,512.60 L305.09,512.28 L306.55,511.96 L308.02,511.63 L309.48,511.30 L310.95,510.98 L312.41,510.65 L313.87,510.31 L315.33,509.97 L316.79,509.63 L318.25,509.26 L319.69,508.88 L321.14,508.48 L322.58,508.06 L324.01,507.63 L325.44,507.18 L326.87,506.71 L328.28,506.21 L329.67,505.68 L331.06,505.11 L332.43,504.51 L333.78,503.88 L335.13,503.22 L336.48,502.56 L337.82,501.89 L339.16,501.22 L340.50,500.56 L341.85,499.89 L343.19,499.22 L344.54,498.56 L345.88,497.89 L347.22,497.22 L348.56,496.55 L349.90,495.88 L351.24,495.20 L352.58,494.52 L353.92,493.84 L355.25,493.16 L356.59,492.48 L357.92,491.79 L359.25,491.09 L360.57,490.39 L361.90,489.68 L363.22,488.97 L364.53,488.25 L365.85,487.53 L367.17,486.81 L368.48,486.10 L369.80,485.37 L371.11,484.65 L372.43,483.93 L373.74,483.20 L375.04,482.46 L376.33,481.70 L377.60,480.91 L378.84,480.09 L380.05,479.22 L381.23,478.30 L382.39,477.35 L383.52,476.38 L384.64,475.38 L385.73,474.36 L386.80,473.31 L387.84,472.24 L388.86,471.14 L389.85,470.02 L390.82,468.88 L391.77,467.72 L392.69,466.54 L393.59,465.34 L394.46,464.12 L395.32,462.89 L396.16,461.65 L396.99,460.40 L397.80,459.14 L398.59,457.87 L399.37,456.59 L400.12,455.29 L400.86,453.99 L401.59,452.68 L402.31,451.36 L403.02,450.04 L403.71,448.71 L404.40,447.38 L405.07,446.04 L405.73,444.69 L406.37,443.34 L407.00,441.98 L407.60,440.61 L408.17,439.23 L408.70,437.83 L409.20,436.42 L409.67,435.00 L410.12,433.57 L410.56,432.13 L410.99,430.70 L411.42,429.26 L411.85,427.82 L412.29,426.39 L412.73,424.95 L413.17,423.52 L413.63,422.09 L414.09,420.67 L414.57,419.25 L415.07,417.83 L415.57,416.42 L416.07,415.01 L416.58,413.59 L417.09,412.18 L417.59,410.77 L418.10,409.36 L418.59,407.94 L419.08,406.52 L419.57,405.11 L420.05,403.69 L420.54,402.27 L421.04,400.85 L421.55,399.45 L422.09,398.05 L422.64,396.65 L423.22,395.27 L423.81,393.90 L424.42,392.52 L425.03,391.16 L425.66,389.79 L426.29,388.43 L426.94,387.08 L427.61,385.74 L428.30,384.41 L429.00,383.08 L429.71,381.77 L430.43,380.45 L431.16,379.14 L431.89,377.83 L432.64,376.53 L433.39,375.24 L434.17,373.95 L434.95,372.67 L435.75,371.40 L436.56,370.14 L437.37,368.88 L438.19,367.62 L439.02,366.38 L439.86,365.14 L440.73,363.92 L441.62,362.71 L442.54,361.53 L443.48,360.37 L444.43,359.21 L445.40,358.06 L446.37,356.92 L447.35,355.79 L448.34,354.66 L449.33,353.54 L450.35,352.44 L451.39,351.37 L452.46,350.32 L453.55,349.29 L454.65,348.27 L455.76,347.27 L456.88,346.27 L458.01,345.28 L459.15,344.31 L460.31,343.37 L461.49,342.45 L462.70,341.57 L463.93,340.73 L465.18,339.90 L466.45,339.10 L467.71,338.30 L468.99,337.50 L470.26,336.71 L471.53,335.91 L472.80,335.12 L474.07,334.32 L475.35,333.53 L476.62,332.73 L477.89,331.94 L479.17,331.15 L480.44,330.37 L481.73,329.60 L483.03,328.85 L484.34,328.15 L485.68,327.48 L487.04,326.86 L488.41,326.27 L489.80,325.72 L491.20,325.18 L492.60,324.64 L494.00,324.11 L495.41,323.59 L496.81,323.06 L498.22,322.53 L499.62,322.00 L501.02,321.48 L502.43,320.95 L503.83,320.43 L505.24,319.91 L506.65,319.41 L508.07,318.93 L509.50,318.48 L510.94,318.08 L512.39,317.71 L513.84,317.37 L515.31,317.05 L516.78,316.75 L518.25,316.45 L519.72,316.16 L521.19,315.86 L522.66,315.57 L524.13,315.27 L525.60,314.98 L527.07,314.69 L528.54,314.40 L530.02,314.11 L531.49,313.84 L532.97,313.58 L534.45,313.35 L535.93,313.15 L537.42,312.98 L538.91,312.84 L540.40,312.71 L541.90,312.59 L543.39,312.48 L544.89,312.37 L546.38,312.26 L547.88,312.15 L549.38,312.04 L550.87,311.93 L552.37,311.82 L553.86,311.71 L555.36,311.60 L556.86,311.51 L558.35,311.42 L559.85,311.36 L561.35,311.31 L562.85,311.28 L564.35,311.26 L565.85,311.25 L567.35,311.25 L568.85,311.25 L570.35,311.25 L571.85,311.25 L573.35,311.25 L574.85,311.25 L576.35,311.25 L577.85,311.25 L579.35,311.25 L580.85,311.25 L582.35,311.25 L583.85,311.24 L585.35,311.23 L586.85,311.22 L588.35,311.21 L589.85,311.20 L591.35,311.19 L592.85,311.17 L594.35,311.16 L595.85,311.14 L597.35,311.13 L598.85,311.11 L600.35,311.10 L601.85,311.08 L603.35,311.06 L604.85,311.04 L606.34,311.02 L607.84,310.98 L609.34,310.92 L610.84,310.84 L612.33,310.75 L613.83,310.64 L615.32,310.51 L616.82,310.38 L618.31,310.25 L619.81,310.12 L621.30,309.98 L622.79,309.85 L624.29,309.71 L625.78,309.58 L627.28,309.44 L628.77,309.31 L630.26,309.16 L631.75,309.01 L633.24,308.83 L634.73,308.64 L636.21,308.42 L637.68,308.17 L639.16,307.90 L640.63,307.62 L642.10,307.33 L643.57,307.03 L645.05,306.74 L646.52,306.45 L647.99,306.15 L649.46,305.86 L650.93,305.56 L652.40,305.27 L653.87,304.97 L655.34,304.66 L656.80,304.34 L658.26,304.00 L659.71,303.63 L661.15,303.22 L662.58,302.79 L664.01,302.33 L665.43,301.85 L666.84,301.36 L668.26,300.87 L669.68,300.37 L671.09,299.88 L672.51,299.38 L673.93,298.89 L675.34,298.40 L676.76,297.90 L678.17,297.40 L679.58,296.90 L680.99,296.38 L682.39,295.84 L683.77,295.27 L685.14,294.67 L686.49,294.03 L687.83,293.36 L689.16,292.66 L690.48,291.96 L691.80,291.25 L693.12,290.54 L694.44,289.82 L695.76,289.11 L697.08,288.40 L698.40,287.68 L699.72,286.97 L701.04,286.26 L702.36,285.54 L703.67,284.82 L704.99,284.10 L706.30,283.37 L707.60,282.63 L708.90,281.88 L710.19,281.12 L711.48,280.36 L712.77,279.58 L714.05,278.81 L715.33,278.03 L716.61,277.25 L717.89,276.46 L719.17,275.68 L720.44,274.88 L721.71,274.09 L722.98,273.28 L724.24,272.48 L725.51,271.67 L726.77,270.86 L728.03,270.05 L729.29,269.23 L730.54,268.41 L731.79,267.57 L733.02,266.72 L734.25,265.86 L735.46,264.98 L736.67,264.09 L737.87,263.19 L739.07,262.29 L740.26,261.38 L741.45,260.47 L742.63,259.54 L743.78,258.59 L744.93,257.62 L746.05,256.63 L747.17,255.63 L748.27,254.62 L749.37,253.60 L750.47,252.58 L751.57,251.55 L752.67,250.53 L753.76,249.50 L754.85,248.47 L755.94,247.44 L757.03,246.41 L758.12,245.38 L759.20,244.34 L760.29,243.31 L761.37,242.27 L762.45,241.23 L763.52,240.18 L764.59,239.13 L765.65,238.06 L766.70,236.99 L767.74,235.92 L768.79,234.84 L769.82,233.76 L770.86,232.67 L771.89,231.58 L772.91,230.48 L773.91,229.37 L774.90,228.25 L775.87,227.10 L776.83,225.95 L777.78,224.79 L778.72,223.62 L779.66,222.45 L780.60,221.28 L781.53,220.11 L782.47,218.94 L783.41,217.77 L784.34,216.60 L785.28,215.42 L786.22,214.25 L787.15,213.08 L788.09,211.90 L789.02,210.73 L789.95,209.55 L790.87,208.37 L791.80,207.19 L792.72,206.01 L793.64,204.82 L794.56,203.64 L795.48,202.46 L796.40,201.27 L797.33,200.09 L798.24,198.90 L799.16,197.72 L800.07,196.52 L800.96,195.32 L801.84,194.10 L802.69,192.87 L803.53,191.63 L804.34,190.37 L805.15,189.11 L805.95,187.84 L806.74,186.57 L807.53,185.29 L808.33,184.02 L809.12,182.75 L809.91,181.47 L810.70,180.20 L811.50,178.93 L812.29,177.65 L813.07,176.37 L813.85,175.09 L814.62,173.80 L815.37,172.51 L816.12,171.21 L816.86,169.90 L817.59,168.59 L818.31,167.28 L819.04,165.97 L819.76,164.65 L820.48,163.34 L821.21,162.02 L821.93,160.71 L822.65,159.39 L823.37,158.08 L824.08,156.75 L824.78,155.43 L825.48,154.10 L826.17,152.77 L826.85,151.43 L827.53,150.10 L828.21,148.76 L828.89,147.42 L829.56,146.08 L830.24,144.74 L830.92,143.41 L831.60,142.07 L832.28,140.73 L832.96,139.39 L833.64,138.06 L834.32,136.72 L835.01,135.39 L835.70,134.06 L836.39,132.73 L837.08,131.40 L837.77,130.06 L838.47,128.74 L839.17,127.41 L839.88,126.09 L840.61,124.79 L841.37,123.50 L842.18,122.25 L843.03,121.02 L843.91,119.82 L844.83,118.64 L845.77,117.46 L846.71,116.30 L847.66,115.14 L848.62,113.99 L849.58,112.84 L850.57,111.72 L851.58,110.61 L852.62,109.55 L853.70,108.51 L854.80,107.50 L855.93,106.51 L857.07,105.54 L858.21,104.57 L859.36,103.61 L860.51,102.65 L861.67,101.69 L862.83,100.74 L864.00,99.81 L865.20,98.91 L866.41,98.04 L867.65,97.20 L868.91,96.39 L870.18,95.60 L871.46,94.82 L872.74,94.04 L874.03,93.27 L875.32,92.50 L876.60,91.73 L877.89,90.97 L879.19,90.22 L880.49,89.48 L881.81,88.78 L883.15,88.11 L884.51,87.49 L885.89,86.91 L887.28,86.36 L888.68,85.83 L890.08,85.31 L891.49,84.79 L892.90,84.28 L894.31,83.76 L895.72,83.26 L897.14,82.77 L898.56,82.31 L900.00,81.88 L901.44,81.49 L902.89,81.14 L904.35,80.81 L905.82,80.50 L907.29,80.20 L908.76,79.91 L910.23,79.62 L911.71,79.34 L913.18,79.06 L914.65,78.80 L916.13,78.58 L917.62,78.38 L919.10,78.22 L920.60,78.10 L922.09,78.00 L923.59,77.92 L925.09,77.84 L926.58,77.77 L928.08,77.71 L929.58,77.64 L931.08,77.59 L932.58,77.55 L934.08,77.53 L935.57,77.53 L937.07,77.56 L938.57,77.61 L940.07,77.66 L941.57,77.73 L943.07,77.79 L944.56,77.87 L946.06,77.94 L947.56,78.02 L949.05,78.12 L950.55,78.24 L952.04,78.39 L953.53,78.56 L955.01,78.76 L956.49,78.98 L957.97,79.21 L959.46,79.45 L960.94,79.69 L962.42,79.93 L963.89,80.19 L965.37,80.45 L966.84,80.74 L968.30,81.07 L969.75,81.43 L971.19,81.83 L972.62,82.26 L974.05,82.72 L975.47,83.19 L976.89,83.66 L978.31,84.14 L979.73,84.62 L981.15,85.11 L982.57,85.60 L983.98,86.11 L985.38,86.64 L986.77,87.20 L988.15,87.78 L989.52,88.39 L990.89,89.01 L992.25,89.63 L993.61,90.27 L994.97,90.90 L996.32,91.54 L997.68,92.18 L999.04,92.82 L1000.39,93.47 L1001.73,94.14 L1003.06,94.83 L1004.38,95.54 L1005.68,96.28 L1006.98,97.03 L1008.27,97.79 L1009.56,98.55 L1010.85,99.32 L1012.14,100.09 L1013.42,100.86 L1014.71,101.64 L1015.99,102.42 L1017.26,103.21 L1018.52,104.02 L1019.76,104.86 L1020.97,105.73 L1022.17,106.63 L1023.34,107.56 L1024.49,108.51 L1025.63,109.48 L1026.75,110.47 L1027.85,111.49 L1028.91,112.54 L1029.93,113.63 L1030.90,114.75 L1031.85,115.91 L1032.77,117.09 L1033.67,118.29 L1034.57,119.49 L1035.46,120.69 L1036.33,121.91 L1037.19,123.14 L1038.01,124.38 L1038.80,125.65 L1039.55,126.95 L1040.25,128.26 L1040.93,129.60 L1041.60,130.94 L1042.25,132.29 L1042.89,133.64 L1043.53,135.00 L1044.16,136.36 L1044.77,137.73 L1045.37,139.11 L1045.95,140.49 L1046.53,141.87 L1047.10,143.26 L1047.67,144.64 L1048.25,146.03 L1048.84,147.41 L1049.43,148.78 L1050.04,150.16 L1050.65,151.53 L1051.26,152.90 L1051.88,154.26 L1052.50,155.63 L1053.11,157.00 L1053.73,158.36 L1054.35,159.73 L1054.97,161.10 L1055.59,162.46 L1056.22,163.82 L1056.86,165.18 L1057.51,166.53 L1058.16,167.88 L1058.82,169.23 L1059.49,170.57 L1060.15,171.92 L1060.81,173.27 L1061.46,174.62 L1062.10,175.97 L1062.74,177.33 L1063.37,178.69 L1064.01,180.05 L1064.65,181.40 L1065.30,182.75 L1065.97,184.10 L1066.65,185.43 L1067.35,186.75 L1068.07,188.07 L1068.79,189.39 L1069.52,190.70 L1070.27,191.99 L1071.04,193.28 L1071.83,194.54 L1072.67,195.78 L1073.54,196.99 L1074.45,198.18 L1075.37,199.36 L1076.31,200.53 L1077.26,201.69 L1078.21,202.85 L1079.15,204.02 L1080.10,205.18 L1081.04,206.35 L1081.98,207.52 L1082.92,208.69 L1083.86,209.86 L1084.80,211.03 L1085.74,212.20 L1086.68,213.37 L1087.61,214.54 L1088.55,215.71 L1089.49,216.88 L1090.43,218.05 L1091.37,219.22 L1092.31,220.39 L1093.25,221.56 L1094.19,222.73 L1095.12,223.90 L1096.06,225.07 L1097.00,226.24 L1097.94,227.41 L1098.87,228.58 L1099.81,229.76 L1100.74,230.93 L1101.67,232.11 L1102.61,233.28 L1103.54,234.45 L1104.49,235.62 L1105.44,236.78 L1106.39,237.93 L1107.36,239.08 L1108.33,240.22 L1109.31,241.36 L1110.29,242.49 L1111.27,243.63 L1112.26,244.76 L1113.25,245.88 L1114.25,247.00 L1115.25,248.11 L1116.26,249.23 L1117.26,250.34 L1118.27,251.45 L1119.28,252.56 L1120.29,253.67 L1121.29,254.79 L1122.30,255.90 L1123.31,257.01 L1124.32,258.12 L1125.32,259.23 L1126.33,260.34 L1127.34,261.45 L1128.36,262.55 L1129.38,263.65 L1130.41,264.74 L1131.46,265.80 L1132.54,266.84 L1133.64,267.86 L1134.76,268.85 L1135.90,269.82 L1137.04,270.79 L1138.20,271.75 L1139.35,272.71 L1140.50,273.66 L1141.66,274.62 L1142.81,275.58 L1143.97,276.54 L1145.13,277.49 L1146.29,278.44 L1147.45,279.38 L1148.63,280.32 L1149.81,281.23 L1151.02,282.12 L1152.23,283.00 L1153.46,283.85 L1154.70,284.70 L1155.95,285.53 L1157.19,286.37 L1158.44,287.20 L1159.68,288.04 L1160.93,288.87 L1162.18,289.70 L1163.43,290.54 L1164.67,291.37 L1165.92,292.20 L1167.17,293.04 L1168.41,293.87 L1169.66,294.71 L1170.90,295.55 L1172.14,296.39 L1173.38,297.24 L1174.61,298.10 L1175.84,298.96 L1177.06,299.82 L1178.29,300.69 L1179.51,301.55 L1180.74,302.42 L1181.96,303.29 L1183.19,304.15 L1184.41,305.02 L1185.64,305.89 L1186.86,306.75 L1188.08,307.62 L1189.31,308.49 L1190.53,309.35 L1191.76,310.22 L1192.98,311.08 L1194.21,311.94 L1195.44,312.80 L1196.67,313.66 L1197.91,314.51 L1199.14,315.36 L1200.38,316.21 L1201.62,317.06 L1202.86,317.91 L1204.09,318.75 L1205.33,319.60 L1206.57,320.45 L1207.80,321.30 L1209.04,322.15 L1210.27,323.01 L1211.50,323.86 L1212.73,324.72 L1213.96,325.58 L1215.19,326.44 L1216.42,327.30 L1217.65,328.16 L1218.88,329.02 L1220.10,329.88 L1221.33,330.75 L1222.55,331.62 L1223.77,332.50 L1224.98,333.38 L1226.20,334.26 L1227.41,335.14 L1228.62,336.02 L1229.83,336.91 L1231.04,337.80 L1232.24,338.69 L1233.44,339.60 L1234.63,340.51 L1235.82,341.42 L1237.00,342.35 L1238.18,343.27 L1239.36,344.20 L1240.54,345.12 L1241.72,346.05 L1242.90,346.98 L1244.07,347.91 L1245.24,348.86 L1246.39,349.81 L1247.53,350.79 L1248.65,351.78 L1249.76,352.79 L1250.86,353.81 L1251.95,354.84 L1253.04,355.87 L1254.12,356.91 L1255.20,357.95 L1256.27,359.00 L1257.34,360.05 L1258.39,361.12 L1259.43,362.20 L1260.47,363.28 L1261.50,364.37 L1262.52,365.47 L1263.55,366.57 L1264.57,367.66 L1265.59,368.76 L1266.61,369.86 L1267.64,370.96 L1268.66,372.05 L1269.68,373.15 L1270.70,374.25 L1271.72,375.35 L1272.75,376.45 L1273.77,377.54 L1274.79,378.64 L1275.81,379.74 L1276.83,380.84 L1277.86,381.93 L1278.88,383.03 L1279.91,384.13 L1280.93,385.22 L1281.96,386.32 L1282.98,387.41 L1284.01,388.50 L1285.03,389.60 L1286.06,390.69 L1287.09,391.79 L1288.11,392.88 L1289.14,393.98 L1290.16,395.07 L1291.19,396.16 L1292.21,397.26 L1293.24,398.35 L1294.27,399.45 L1295.29,400.54 L1296.32,401.63 L1297.36,402.71 L1298.41,403.78 L1299.48,404.82 L1300.58,405.84 L1301.71,406.82 L1302.86,407.77 L1304.04,408.69 L1305.23,409.60 L1306.43,410.50 L1307.64,411.39 L1308.86,412.26 L1310.09,413.11 L1311.34,413.94 L1312.60,414.74 L1313.88,415.52 L1315.18,416.27 L1316.48,417.00 L1317.81,417.70 L1319.14,418.37 L1320.50,419.02 L1321.86,419.64 L1323.23,420.24 L1324.61,420.83 L1325.99,421.40 L1327.39,421.94 L1328.80,422.45 L1330.22,422.92 L1331.65,423.35 L1333.09,423.75 L1334.54,424.13 L1335.99,424.50 L1337.45,424.86 L1338.90,425.22 L1340.36,425.58 L1341.82,425.94 L1343.27,426.30 L1344.73,426.66 L1346.19,427.02 L1347.64,427.38 L1349.10,427.73 L1350.56,428.08 L1352.02,428.41 L1353.49,428.72 L1354.96,429.00 L1356.43,429.25 L1357.91,429.48 L1359.40,429.69 L1360.88,429.89 L1362.37,430.08 L1363.86,430.27 L1365.35,430.45 L1366.84,430.64 L1368.32,430.83 L1369.81,431.02 L1371.30,431.20 L1372.79,431.39 L1374.28,431.57 L1375.77,431.75 L1377.26,431.91 L1378.75,432.06 L1380.24,432.18 L1381.74,432.28 L1383.23,432.36 L1384.73,432.42 L1386.23,432.47 L1387.73,432.51 L1389.23,432.55 L1390.73,432.59 L1392.23,432.64 L1393.73,432.68 L1395.23,432.72 L1396.73,432.76 L1398.22,432.80 L1399.72,432.83 L1401.22,432.86 L1402.72,432.88 L1404.22,432.88 L1405.72,432.85 L1407.21,432.79 L1408.71,432.71 L1410.21,432.62 L1411.70,432.51 L1413.20,432.39 L1414.69,432.28 L1416.19,432.16 L1417.68,432.04 L1419.18,431.93 L1420.68,431.81 L1422.17,431.69 L1423.67,431.57 L1425.16,431.45 L1426.65,431.31 L1428.14,431.15 L1429.62,430.96 L1431.10,430.72 L1432.56,430.43 L1434.02,430.10 L1435.47,429.74 L1436.92,429.36 L1438.37,428.97 L1439.82,428.58 L1441.26,428.18 L1442.71,427.79 L1444.16,427.39 L1445.60,426.99 L1447.05,426.59 L1448.50,426.20 L1449.94,425.80 L1451.39,425.39 L1452.83,424.98 L1454.27,424.56 L1455.70,424.12 L1457.13,423.66 L1458.54,423.18 L1459.96,422.68 L1461.37,422.17 L1462.77,421.65 L1464.18,421.12 L1465.58,420.60 L1466.99,420.07 L1468.39,419.55 L1469.80,419.02 L1471.20,418.49 L1472.61,417.97 L1474.01,417.43 L1475.41,416.89 L1476.79,416.33 L1478.17,415.75 L1479.52,415.12 L1480.85,414.44 L1482.16,413.72 L1483.45,412.97 L1484.73,412.19 L1486.01,411.40 L1487.28,410.60 L1488.55,409.80 L1489.81,409.00 L1491.08,408.20 L1492.35,407.40 L1493.62,406.60 L1494.89,405.80 L1496.16,405.00 L1497.42,404.20 L1498.69,403.40 L1499.96,402.59 L1501.22,401.79 L1502.48,400.97 L1503.73,400.14 L1504.96,399.29 L1506.18,398.42 L1507.38,397.53 L1508.57,396.61 L1509.75,395.69 L1510.93,394.76 L1512.10,393.82 L1513.27,392.89 L1514.44,391.95 L1515.62,391.02 L1516.79,390.08 L1517.96,389.14 L1519.13,388.21 L1520.30,387.27 L1521.47,386.33 L1522.65,385.40 L1523.82,384.46 L1524.99,383.52 L1526.16,382.59 L1527.33,381.65 L1528.50,380.71 L1529.68,379.78 L1530.85,378.84 L1532.02,377.90 L1533.19,376.97 L1534.36,376.03 L1535.53,375.09 L1536.71,374.16 L1537.88,373.22 L1539.05,372.28 L1540.22,371.34 L1541.39,370.41 L1542.56,369.47 L1543.73,368.53 L1544.90,367.60 L1546.08,366.66 L1547.25,365.72 L1548.42,364.79 L1549.59,363.85 L1550.76,362.91 L1551.93,361.98 L1553.11,361.04 L1554.28,360.11 L1555.46,359.18 L1556.65,358.26 L1557.84,357.35 L1559.03,356.44 L1560.23,355.54 L1561.43,354.64 L1562.63,353.74 L1563.83,352.84 L1565.03,351.94 L1566.23,351.04 L1567.43,350.14 L1568.63,349.24 L1569.83,348.34 L1571.03,347.44 L1572.23,346.54 L1573.43,345.64 L1574.63,344.74 L1575.83,343.85 L1577.04,342.95 L1578.24,342.07 L1579.46,341.19 L1580.69,340.34 L1581.94,339.52 L1583.21,338.73 L1584.51,337.97 L1585.81,337.24 L1587.13,336.52 L1588.45,335.81 L1589.77,335.10 L1591.09,334.39 L1592.41,333.69 L1593.74,332.98 L1595.06,332.28 L1596.39,331.60 L1597.73,330.95 L1599.09,330.34 L1600.47,329.81 L1601.87,329.36 L1603.31,328.99 L1604.76,328.69 L1606.23,328.45 L1607.71,328.23 L1609.20,328.02 L1610.68,327.83 L1612.17,327.63 L1613.66,327.45 L1615.14,327.28 L1616.63,327.14 L1618.11,327.06 L1619.59,327.04 L1621.07,327.11 L1622.55,327.26 L1624.02,327.46 L1625.49,327.71 L1626.97,327.99 L1628.44,328.27 L1629.91,328.56 L1631.38,328.86 L1632.85,329.16 L1634.31,329.48 L1635.75,329.83 L1637.17,330.24 L1638.56,330.73 L1639.92,331.31 L1641.23,331.97 L1642.52,332.71 L1643.79,333.49 L1645.05,334.30 L1646.30,335.12 L1647.55,335.95 L1648.80,336.78 L1650.05,337.61 L1651.30,338.45 L1652.54,339.28 L1653.77,340.13 L1654.99,341.00 L1656.16,341.90 L1657.29,342.86 L1658.36,343.88 L1659.36,344.96 L1660.30,346.11 L1661.21,347.29 L1662.10,348.49 L1662.97,349.71 L1663.84,350.93 L1664.71,352.16 L1665.57,353.38 L1666.44,354.60 L1667.30,355.83 L1668.17,357.05 L1669.04,358.28 L1669.90,359.50 L1670.77,360.73 L1671.63,361.95 L1672.50,363.18 L1673.36,364.41 L1674.21,365.64 L1675.07,366.87 L1675.91,368.11 L1676.76,369.35 L1677.60,370.59 L1678.44,371.84 L1679.28,373.08 L1680.12,374.32 L1680.96,375.56 L1681.80,376.81 L1682.64,378.05 L1683.48,379.29 L1684.32,380.54 L1685.16,381.78 L1686.00,383.02 L1686.84,384.27 L1687.68,385.51 L1688.52,386.75 L1689.36,387.99 L1690.20,389.24 L1691.04,390.48 L1691.88,391.72 L1692.72,392.96 L1693.56,394.20 L1694.41,395.44 L1695.26,396.68 L1696.10,397.92 L1696.95,399.16 L1697.80,400.39 L1698.64,401.63 L1699.49,402.87 L1700.34,404.11 L1701.18,405.35 L1702.03,406.59 L1702.87,407.82 L1703.72,409.06 L1704.56,410.30 L1705.41,411.55 L1706.25,412.79 L1707.09,414.03 L1707.93,415.27 L1708.78,416.51 L1709.63,417.74 L1710.48,418.98 L1711.35,420.20 L1712.24,421.41 L1713.14,422.60 L1714.07,423.78 L1715.01,424.94 L1715.96,426.10 L1716.92,427.25 L1717.89,428.40 L1718.85,429.55 L1719.82,430.69 L1720.79,431.84 L1721.75,432.99 L1722.72,434.14 L1723.69,435.28 L1724.65,436.43 L1725.62,437.57 L1726.60,438.71 L1727.58,439.85 L1728.57,440.97 L1729.57,442.09 L1730.58,443.20 L1731.59,444.31 L1732.61,445.41 L1733.63,446.50 L1734.65,447.60 L1735.68,448.70 L1736.70,449.80 L1737.72,450.89 L1738.75,451.99 L1739.77,453.09 L1740.79,454.18 L1741.82,455.28 L1742.85,456.37 L1743.88,457.46 L1744.92,458.54 L1745.97,459.61 L1747.02,460.68 L1748.08,461.74 L1749.14,462.80 L1750.21,463.86 L1751.27,464.91 L1752.34,465.97 L1753.41,467.02 L1754.47,468.08 L1755.54,469.13 L1756.61,470.18 L1757.69,471.22 L1758.78,472.25 L1759.88,473.26 L1761.00,474.26 L1762.14,475.23 L1763.29,476.19 L1764.46,477.13 L1765.62,478.08 L1766.80,479.01 L1767.97,479.95 L1769.14,480.88 L1770.32,481.82 L1771.49,482.74 L1772.68,483.66 L1773.88,484.56 L1775.09,485.43 L1776.33,486.28 L1777.58,487.10 L1778.85,487.90 L1780.12,488.68 L1781.41,489.46 L1782.69,490.23 L1783.98,491.00 L1785.27,491.77 L1786.56,492.54 L1787.85,493.29 L1789.15,494.04 L1790.46,494.76 L1791.78,495.47 L1793.11,496.17 L1794.45,496.85 L1795.79,497.52 L1797.13,498.19 L1798.47,498.86 L1799.82,499.52 L1801.17,500.18 L1802.52,500.82 L1803.88,501.44 L1805.26,502.04 L1806.64,502.60 L1808.04,503.13 L1809.45,503.64 L1810.87,504.13 L1812.29,504.61 L1813.71,505.09 L1815.13,505.57 L1816.55,506.05 L1817.97,506.53 L1819.40,507.01 L1820.82,507.48 L1822.24,507.96 L1823.67,508.42 L1825.10,508.87 L1826.53,509.29 L1827.98,509.67 L1829.43,510.02 L1830.90,510.33 L1832.37,510.62 L1833.84,510.89 L1835.32,511.15 L1836.80,511.40 L1838.27,511.65 L1839.75,511.90 L1841.23,512.14 L1842.72,512.37 L1844.20,512.59 L1845.68,512.78 L1847.17,512.96 L1848.66,513.12 L1850.16,513.28 L1851.65,513.42 L1853.14,513.57 L1854.63,513.71 L1856.12,513.85 L1857.60,513.99 L1859.07,514.12 L1860.54,514.26 L1862.00,514.40" fill="none" stroke="#e1b12f" stroke-width="6.8" stroke-linejoin="round"/>
<text x="273.0" y="755.6" class="lb">venkovská</text>
<text x="273.0" y="799.9" class="lb">krajina</text>
<text x="504.6" y="755.6" class="lb">příměstská</text>
<text x="504.6" y="799.9" class="lb">rezidenční</text>
<text x="504.6" y="844.2" class="lb">zástavba</text>
<text x="715.8" y="755.6" class="lb">komerční</text>
<text x="715.8" y="799.9" class="lb">plochy</text>
<text x="974.5" y="755.6" class="lb">městské</text>
<text x="974.5" y="799.9" class="lb">centrum</text>
<text x="1201.3" y="755.6" class="lb">městská</text>
<text x="1201.4" y="799.9" class="lb">obytná</text>
<text x="1206.2" y="844.2" class="lb">zástavba</text>
<text x="1422.6" y="755.6" class="lb">parky</text>
<text x="1669.0" y="755.6" class="lb">příměstská</text>
<text x="1669.0" y="799.9" class="lb">rezidenční</text>
<text x="1669.0" y="844.2" class="lb">zástavba</text>
</svg>
</body></html>
